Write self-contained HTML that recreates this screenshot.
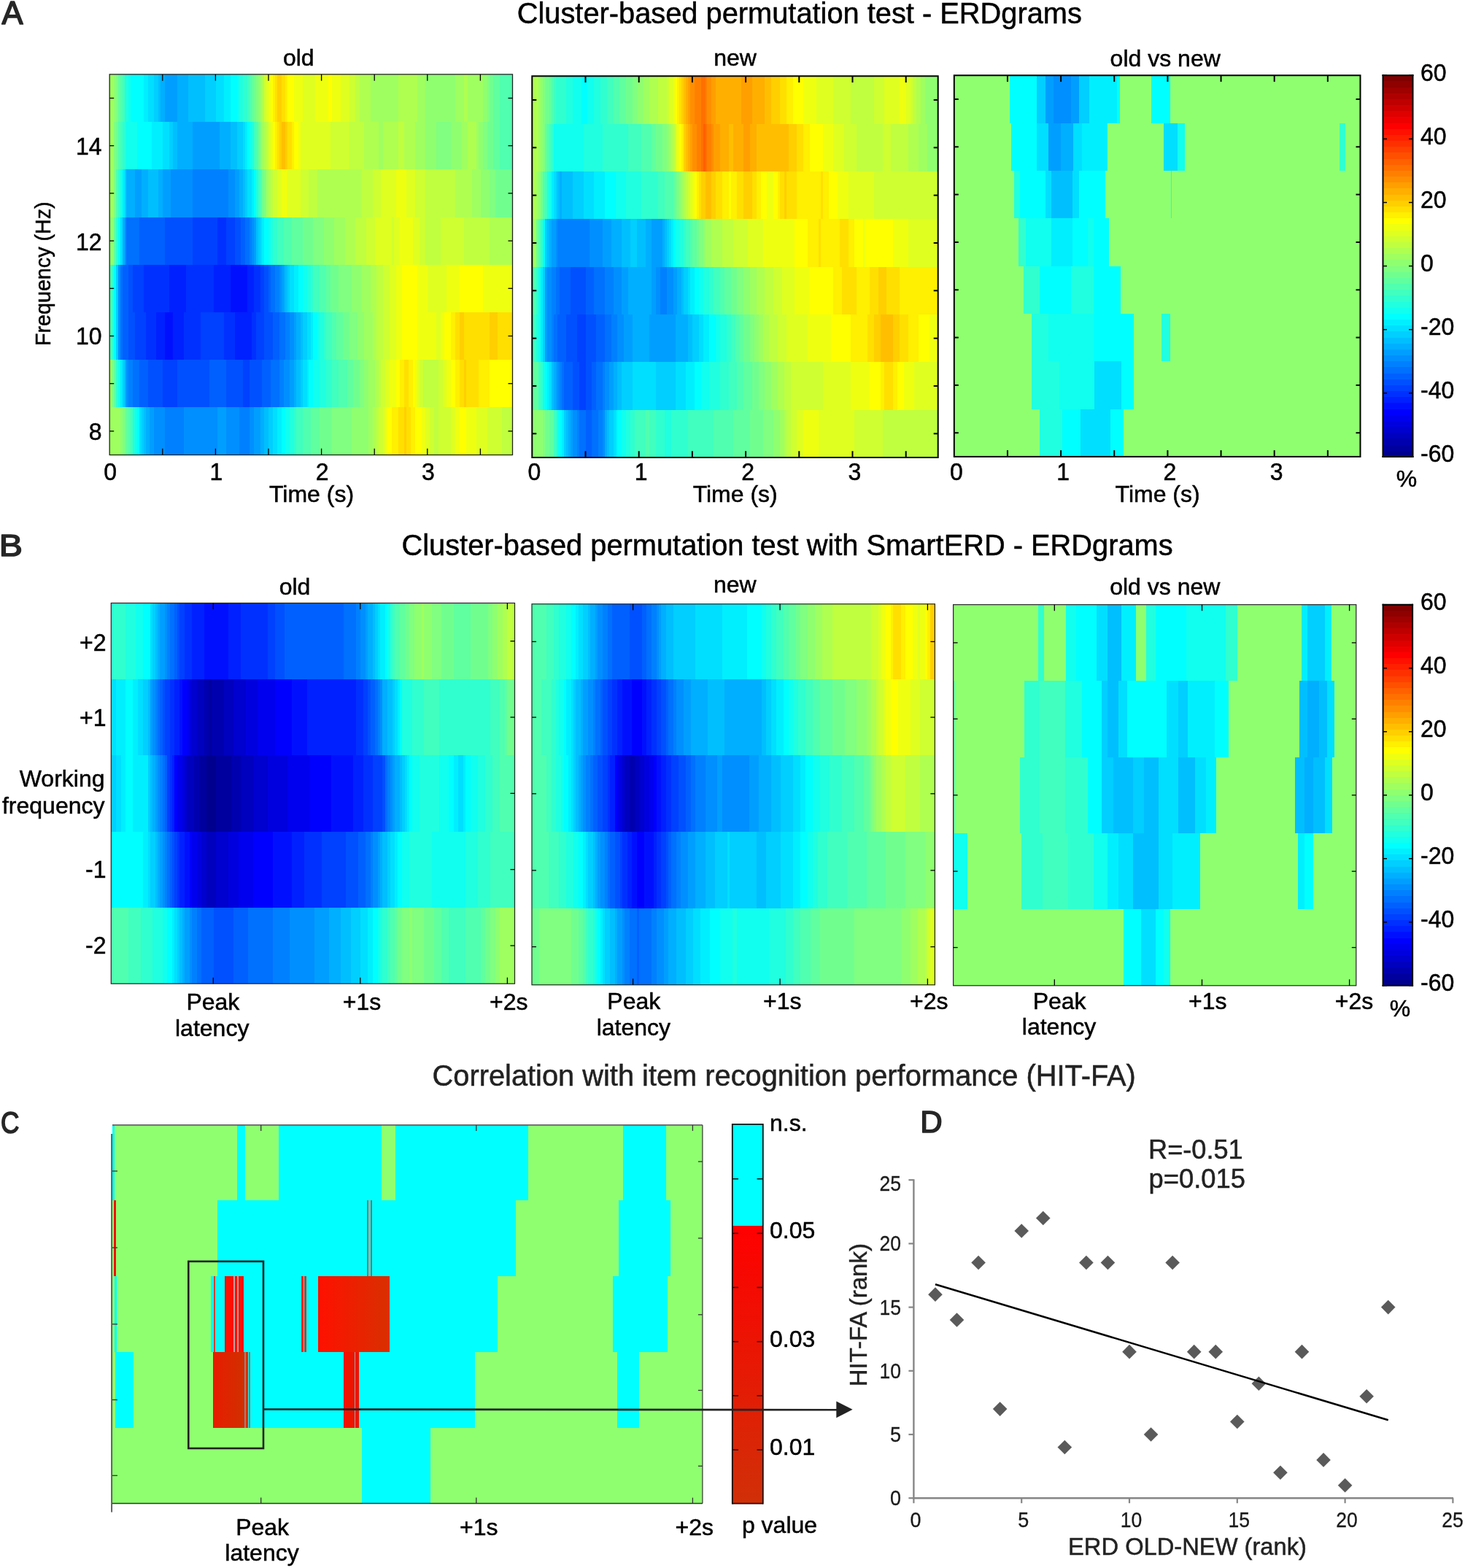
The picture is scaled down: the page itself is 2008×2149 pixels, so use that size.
<!DOCTYPE html>
<html lang="en"><head><meta charset="utf-8"><title>ERDgrams figure</title>
<style>
html,body{margin:0;padding:0;background:#fff;}
body{width:2008px;height:2149px;overflow:hidden;}
svg{display:block;font-family:'Liberation Sans', sans-serif;}
</style></head><body>
<svg width="2008" height="2149" viewBox="0 0 2008 2149">
<rect width="2008" height="2149" fill="#fff"/>
<text transform="translate(2.61 32.8) scale(1.0010 1)" font-size="43.46" fill="#262626" stroke="#262626" stroke-width="1.6" stroke-linejoin="round">A</text>
<text x="1095.8" y="31.6" font-size="39.8" text-anchor="middle" fill="#000" stroke="#000" stroke-width="0.5">Cluster-based permutation test - ERDgrams</text>
<text x="409.3" y="90.4" font-size="32" text-anchor="middle" fill="#000" stroke="#000" stroke-width="0.5">old</text>
<text x="1007.6" y="90.4" font-size="32" text-anchor="middle" fill="#000" stroke="#000" stroke-width="0.5">new</text>
<text x="1597.2" y="91" font-size="32" text-anchor="middle" fill="#000" stroke="#000" stroke-width="0.5">old vs new</text>
<g shape-rendering="crispEdges">
<rect x="150" y="101.9" width="6" height="65.2" fill="#9FFF60"/>
<rect x="156" y="101.9" width="3" height="65.2" fill="#8FFF70"/>
<rect x="159" y="101.9" width="3" height="65.2" fill="#80FF80"/>
<rect x="162" y="101.9" width="3" height="65.2" fill="#60FF9F"/>
<rect x="165" y="101.9" width="3" height="65.2" fill="#50FFAF"/>
<rect x="168" y="101.9" width="3" height="65.2" fill="#40FFBF"/>
<rect x="171" y="101.9" width="5" height="65.2" fill="#20FFDF"/>
<rect x="176" y="101.9" width="3" height="65.2" fill="#10FFEF"/>
<rect x="179" y="101.9" width="18" height="65.2" fill="#00FFFF"/>
<rect x="197" y="101.9" width="6" height="65.2" fill="#00EFFF"/>
<rect x="203" y="101.9" width="8" height="65.2" fill="#00DFFF"/>
<rect x="211" y="101.9" width="6" height="65.2" fill="#00CFFF"/>
<rect x="217" y="101.9" width="3" height="65.2" fill="#00BFFF"/>
<rect x="220" y="101.9" width="6" height="65.2" fill="#00AFFF"/>
<rect x="226" y="101.9" width="17" height="65.2" fill="#009FFF"/>
<rect x="243" y="101.9" width="15" height="65.2" fill="#00AFFF"/>
<rect x="258" y="101.9" width="23" height="65.2" fill="#00BFFF"/>
<rect x="281" y="101.9" width="15" height="65.2" fill="#00CFFF"/>
<rect x="296" y="101.9" width="11" height="65.2" fill="#00DFFF"/>
<rect x="307" y="101.9" width="9" height="65.2" fill="#00EFFF"/>
<rect x="316" y="101.9" width="9" height="65.2" fill="#00FFFF"/>
<rect x="325" y="101.9" width="3" height="65.2" fill="#10FFEF"/>
<rect x="328" y="101.9" width="5" height="65.2" fill="#20FFDF"/>
<rect x="333" y="101.9" width="6" height="65.2" fill="#30FFCF"/>
<rect x="339" y="101.9" width="3" height="65.2" fill="#40FFBF"/>
<rect x="342" y="101.9" width="3" height="65.2" fill="#50FFAF"/>
<rect x="345" y="101.9" width="3" height="65.2" fill="#60FF9F"/>
<rect x="348" y="101.9" width="3" height="65.2" fill="#70FF8F"/>
<rect x="351" y="101.9" width="3" height="65.2" fill="#80FF80"/>
<rect x="354" y="101.9" width="3" height="65.2" fill="#8FFF70"/>
<rect x="357" y="101.9" width="2" height="65.2" fill="#9FFF60"/>
<rect x="359" y="101.9" width="3" height="65.2" fill="#AFFF50"/>
<rect x="362" y="101.9" width="3" height="65.2" fill="#CFFF30"/>
<rect x="365" y="101.9" width="3" height="65.2" fill="#DFFF20"/>
<rect x="368" y="101.9" width="3" height="65.2" fill="#EFFF10"/>
<rect x="371" y="101.9" width="3" height="65.2" fill="#FFFF00"/>
<rect x="374" y="101.9" width="3" height="65.2" fill="#FFEF00"/>
<rect x="377" y="101.9" width="3" height="65.2" fill="#FFDF00"/>
<rect x="380" y="101.9" width="6" height="65.2" fill="#FFCF00"/>
<rect x="386" y="101.9" width="5" height="65.2" fill="#FFDF00"/>
<rect x="391" y="101.9" width="3" height="65.2" fill="#FFEF00"/>
<rect x="394" y="101.9" width="9" height="65.2" fill="#FFFF00"/>
<rect x="403" y="101.9" width="12" height="65.2" fill="#EFFF10"/>
<rect x="415" y="101.9" width="17" height="65.2" fill="#DFFF20"/>
<rect x="432" y="101.9" width="18" height="65.2" fill="#EFFF10"/>
<rect x="450" y="101.9" width="5" height="65.2" fill="#FFFF00"/>
<rect x="455" y="101.9" width="12" height="65.2" fill="#EFFF10"/>
<rect x="467" y="101.9" width="12" height="65.2" fill="#DFFF20"/>
<rect x="479" y="101.9" width="8" height="65.2" fill="#CFFF30"/>
<rect x="487" y="101.9" width="6" height="65.2" fill="#BFFF40"/>
<rect x="493" y="101.9" width="15" height="65.2" fill="#AFFF50"/>
<rect x="508" y="101.9" width="38" height="65.2" fill="#9FFF60"/>
<rect x="546" y="101.9" width="26" height="65.2" fill="#AFFF50"/>
<rect x="572" y="101.9" width="11" height="65.2" fill="#9FFF60"/>
<rect x="583" y="101.9" width="41" height="65.2" fill="#8FFF70"/>
<rect x="624" y="101.9" width="12" height="65.2" fill="#9FFF60"/>
<rect x="636" y="101.9" width="5" height="65.2" fill="#AFFF50"/>
<rect x="641" y="101.9" width="21" height="65.2" fill="#9FFF60"/>
<rect x="662" y="101.9" width="6" height="65.2" fill="#8FFF70"/>
<rect x="668" y="101.9" width="3" height="65.2" fill="#80FF80"/>
<rect x="671" y="101.9" width="5" height="65.2" fill="#70FF8F"/>
<rect x="676" y="101.9" width="9" height="65.2" fill="#60FF9F"/>
<rect x="685" y="101.9" width="17" height="65.2" fill="#50FFAF"/>
<rect x="150" y="167.1" width="6" height="65.2" fill="#9FFF60"/>
<rect x="156" y="167.1" width="3" height="65.2" fill="#80FF80"/>
<rect x="159" y="167.1" width="3" height="65.2" fill="#70FF8F"/>
<rect x="162" y="167.1" width="3" height="65.2" fill="#50FFAF"/>
<rect x="165" y="167.1" width="3" height="65.2" fill="#40FFBF"/>
<rect x="168" y="167.1" width="3" height="65.2" fill="#30FFCF"/>
<rect x="171" y="167.1" width="2" height="65.2" fill="#20FFDF"/>
<rect x="173" y="167.1" width="15" height="65.2" fill="#10FFEF"/>
<rect x="188" y="167.1" width="20" height="65.2" fill="#00FFFF"/>
<rect x="208" y="167.1" width="15" height="65.2" fill="#00EFFF"/>
<rect x="223" y="167.1" width="9" height="65.2" fill="#00DFFF"/>
<rect x="232" y="167.1" width="5" height="65.2" fill="#00CFFF"/>
<rect x="237" y="167.1" width="6" height="65.2" fill="#00BFFF"/>
<rect x="243" y="167.1" width="21" height="65.2" fill="#00AFFF"/>
<rect x="264" y="167.1" width="37" height="65.2" fill="#009FFF"/>
<rect x="301" y="167.1" width="15" height="65.2" fill="#00AFFF"/>
<rect x="316" y="167.1" width="9" height="65.2" fill="#00BFFF"/>
<rect x="325" y="167.1" width="8" height="65.2" fill="#00CFFF"/>
<rect x="333" y="167.1" width="3" height="65.2" fill="#00DFFF"/>
<rect x="336" y="167.1" width="3" height="65.2" fill="#00EFFF"/>
<rect x="339" y="167.1" width="3" height="65.2" fill="#00FFFF"/>
<rect x="342" y="167.1" width="3" height="65.2" fill="#10FFEF"/>
<rect x="345" y="167.1" width="3" height="65.2" fill="#20FFDF"/>
<rect x="348" y="167.1" width="3" height="65.2" fill="#40FFBF"/>
<rect x="351" y="167.1" width="3" height="65.2" fill="#50FFAF"/>
<rect x="354" y="167.1" width="3" height="65.2" fill="#70FF8F"/>
<rect x="357" y="167.1" width="2" height="65.2" fill="#8FFF70"/>
<rect x="359" y="167.1" width="3" height="65.2" fill="#9FFF60"/>
<rect x="362" y="167.1" width="3" height="65.2" fill="#AFFF50"/>
<rect x="365" y="167.1" width="3" height="65.2" fill="#BFFF40"/>
<rect x="368" y="167.1" width="3" height="65.2" fill="#DFFF20"/>
<rect x="371" y="167.1" width="3" height="65.2" fill="#EFFF10"/>
<rect x="374" y="167.1" width="3" height="65.2" fill="#FFFF00"/>
<rect x="377" y="167.1" width="3" height="65.2" fill="#FFEF00"/>
<rect x="380" y="167.1" width="3" height="65.2" fill="#FFDF00"/>
<rect x="383" y="167.1" width="3" height="65.2" fill="#FFCF00"/>
<rect x="386" y="167.1" width="5" height="65.2" fill="#FFBF00"/>
<rect x="391" y="167.1" width="3" height="65.2" fill="#FFCF00"/>
<rect x="394" y="167.1" width="6" height="65.2" fill="#FFDF00"/>
<rect x="400" y="167.1" width="3" height="65.2" fill="#FFEF00"/>
<rect x="403" y="167.1" width="6" height="65.2" fill="#FFFF00"/>
<rect x="409" y="167.1" width="3" height="65.2" fill="#EFFF10"/>
<rect x="412" y="167.1" width="41" height="65.2" fill="#DFFF20"/>
<rect x="453" y="167.1" width="26" height="65.2" fill="#CFFF30"/>
<rect x="479" y="167.1" width="20" height="65.2" fill="#BFFF40"/>
<rect x="499" y="167.1" width="20" height="65.2" fill="#AFFF50"/>
<rect x="519" y="167.1" width="6" height="65.2" fill="#9FFF60"/>
<rect x="525" y="167.1" width="21" height="65.2" fill="#AFFF50"/>
<rect x="546" y="167.1" width="8" height="65.2" fill="#BFFF40"/>
<rect x="554" y="167.1" width="15" height="65.2" fill="#AFFF50"/>
<rect x="569" y="167.1" width="14" height="65.2" fill="#9FFF60"/>
<rect x="583" y="167.1" width="15" height="65.2" fill="#8FFF70"/>
<rect x="598" y="167.1" width="20" height="65.2" fill="#80FF80"/>
<rect x="618" y="167.1" width="15" height="65.2" fill="#8FFF70"/>
<rect x="633" y="167.1" width="8" height="65.2" fill="#9FFF60"/>
<rect x="641" y="167.1" width="12" height="65.2" fill="#AFFF50"/>
<rect x="653" y="167.1" width="3" height="65.2" fill="#9FFF60"/>
<rect x="656" y="167.1" width="6" height="65.2" fill="#8FFF70"/>
<rect x="662" y="167.1" width="6" height="65.2" fill="#80FF80"/>
<rect x="668" y="167.1" width="8" height="65.2" fill="#70FF8F"/>
<rect x="676" y="167.1" width="9" height="65.2" fill="#60FF9F"/>
<rect x="685" y="167.1" width="17" height="65.2" fill="#50FFAF"/>
<rect x="150" y="232.3" width="6" height="65.2" fill="#9FFF60"/>
<rect x="156" y="232.3" width="3" height="65.2" fill="#80FF80"/>
<rect x="159" y="232.3" width="3" height="65.2" fill="#50FFAF"/>
<rect x="162" y="232.3" width="3" height="65.2" fill="#30FFCF"/>
<rect x="165" y="232.3" width="3" height="65.2" fill="#10FFEF"/>
<rect x="168" y="232.3" width="3" height="65.2" fill="#00EFFF"/>
<rect x="171" y="232.3" width="2" height="65.2" fill="#00CFFF"/>
<rect x="173" y="232.3" width="12" height="65.2" fill="#00AFFF"/>
<rect x="185" y="232.3" width="9" height="65.2" fill="#009FFF"/>
<rect x="194" y="232.3" width="9" height="65.2" fill="#00AFFF"/>
<rect x="203" y="232.3" width="14" height="65.2" fill="#00BFFF"/>
<rect x="217" y="232.3" width="6" height="65.2" fill="#00AFFF"/>
<rect x="223" y="232.3" width="11" height="65.2" fill="#009FFF"/>
<rect x="234" y="232.3" width="30" height="65.2" fill="#008FFF"/>
<rect x="264" y="232.3" width="49" height="65.2" fill="#0080FF"/>
<rect x="313" y="232.3" width="9" height="65.2" fill="#008FFF"/>
<rect x="322" y="232.3" width="6" height="65.2" fill="#009FFF"/>
<rect x="328" y="232.3" width="5" height="65.2" fill="#00AFFF"/>
<rect x="333" y="232.3" width="3" height="65.2" fill="#00BFFF"/>
<rect x="336" y="232.3" width="3" height="65.2" fill="#00CFFF"/>
<rect x="339" y="232.3" width="6" height="65.2" fill="#00DFFF"/>
<rect x="345" y="232.3" width="3" height="65.2" fill="#00EFFF"/>
<rect x="348" y="232.3" width="3" height="65.2" fill="#00FFFF"/>
<rect x="351" y="232.3" width="3" height="65.2" fill="#20FFDF"/>
<rect x="354" y="232.3" width="3" height="65.2" fill="#40FFBF"/>
<rect x="357" y="232.3" width="2" height="65.2" fill="#50FFAF"/>
<rect x="359" y="232.3" width="3" height="65.2" fill="#70FF8F"/>
<rect x="362" y="232.3" width="3" height="65.2" fill="#80FF80"/>
<rect x="365" y="232.3" width="3" height="65.2" fill="#9FFF60"/>
<rect x="368" y="232.3" width="3" height="65.2" fill="#AFFF50"/>
<rect x="371" y="232.3" width="3" height="65.2" fill="#BFFF40"/>
<rect x="374" y="232.3" width="6" height="65.2" fill="#CFFF30"/>
<rect x="380" y="232.3" width="6" height="65.2" fill="#DFFF20"/>
<rect x="386" y="232.3" width="8" height="65.2" fill="#EFFF10"/>
<rect x="394" y="232.3" width="18" height="65.2" fill="#DFFF20"/>
<rect x="412" y="232.3" width="11" height="65.2" fill="#CFFF30"/>
<rect x="423" y="232.3" width="12" height="65.2" fill="#BFFF40"/>
<rect x="435" y="232.3" width="61" height="65.2" fill="#AFFF50"/>
<rect x="496" y="232.3" width="15" height="65.2" fill="#BFFF40"/>
<rect x="511" y="232.3" width="11" height="65.2" fill="#CFFF30"/>
<rect x="522" y="232.3" width="21" height="65.2" fill="#DFFF20"/>
<rect x="543" y="232.3" width="14" height="65.2" fill="#EFFF10"/>
<rect x="557" y="232.3" width="12" height="65.2" fill="#DFFF20"/>
<rect x="569" y="232.3" width="14" height="65.2" fill="#CFFF30"/>
<rect x="583" y="232.3" width="41" height="65.2" fill="#BFFF40"/>
<rect x="624" y="232.3" width="23" height="65.2" fill="#AFFF50"/>
<rect x="647" y="232.3" width="12" height="65.2" fill="#9FFF60"/>
<rect x="659" y="232.3" width="12" height="65.2" fill="#8FFF70"/>
<rect x="671" y="232.3" width="8" height="65.2" fill="#80FF80"/>
<rect x="679" y="232.3" width="23" height="65.2" fill="#70FF8F"/>
<rect x="150" y="297.5" width="6" height="65.2" fill="#8FFF70"/>
<rect x="156" y="297.5" width="3" height="65.2" fill="#60FF9F"/>
<rect x="159" y="297.5" width="3" height="65.2" fill="#30FFCF"/>
<rect x="162" y="297.5" width="3" height="65.2" fill="#00FFFF"/>
<rect x="165" y="297.5" width="3" height="65.2" fill="#00DFFF"/>
<rect x="168" y="297.5" width="3" height="65.2" fill="#00AFFF"/>
<rect x="171" y="297.5" width="2" height="65.2" fill="#008FFF"/>
<rect x="173" y="297.5" width="18" height="65.2" fill="#0070FF"/>
<rect x="191" y="297.5" width="35" height="65.2" fill="#0060FF"/>
<rect x="226" y="297.5" width="38" height="65.2" fill="#0050FF"/>
<rect x="264" y="297.5" width="34" height="65.2" fill="#0040FF"/>
<rect x="298" y="297.5" width="12" height="65.2" fill="#0030FF"/>
<rect x="310" y="297.5" width="12" height="65.2" fill="#0040FF"/>
<rect x="322" y="297.5" width="8" height="65.2" fill="#0050FF"/>
<rect x="330" y="297.5" width="6" height="65.2" fill="#0060FF"/>
<rect x="336" y="297.5" width="6" height="65.2" fill="#0070FF"/>
<rect x="342" y="297.5" width="3" height="65.2" fill="#0080FF"/>
<rect x="345" y="297.5" width="3" height="65.2" fill="#008FFF"/>
<rect x="348" y="297.5" width="3" height="65.2" fill="#009FFF"/>
<rect x="351" y="297.5" width="3" height="65.2" fill="#00BFFF"/>
<rect x="354" y="297.5" width="3" height="65.2" fill="#00CFFF"/>
<rect x="357" y="297.5" width="2" height="65.2" fill="#00DFFF"/>
<rect x="359" y="297.5" width="3" height="65.2" fill="#00EFFF"/>
<rect x="362" y="297.5" width="6" height="65.2" fill="#00FFFF"/>
<rect x="368" y="297.5" width="3" height="65.2" fill="#10FFEF"/>
<rect x="371" y="297.5" width="3" height="65.2" fill="#20FFDF"/>
<rect x="374" y="297.5" width="6" height="65.2" fill="#30FFCF"/>
<rect x="380" y="297.5" width="9" height="65.2" fill="#40FFBF"/>
<rect x="389" y="297.5" width="11" height="65.2" fill="#50FFAF"/>
<rect x="400" y="297.5" width="15" height="65.2" fill="#60FF9F"/>
<rect x="415" y="297.5" width="14" height="65.2" fill="#70FF8F"/>
<rect x="429" y="297.5" width="15" height="65.2" fill="#80FF80"/>
<rect x="444" y="297.5" width="14" height="65.2" fill="#8FFF70"/>
<rect x="458" y="297.5" width="15" height="65.2" fill="#9FFF60"/>
<rect x="473" y="297.5" width="14" height="65.2" fill="#AFFF50"/>
<rect x="487" y="297.5" width="15" height="65.2" fill="#BFFF40"/>
<rect x="502" y="297.5" width="12" height="65.2" fill="#CFFF30"/>
<rect x="514" y="297.5" width="23" height="65.2" fill="#DFFF20"/>
<rect x="537" y="297.5" width="3" height="65.2" fill="#CFFF30"/>
<rect x="540" y="297.5" width="8" height="65.2" fill="#DFFF20"/>
<rect x="548" y="297.5" width="18" height="65.2" fill="#EFFF10"/>
<rect x="566" y="297.5" width="9" height="65.2" fill="#DFFF20"/>
<rect x="575" y="297.5" width="8" height="65.2" fill="#CFFF30"/>
<rect x="583" y="297.5" width="21" height="65.2" fill="#BFFF40"/>
<rect x="604" y="297.5" width="32" height="65.2" fill="#CFFF30"/>
<rect x="636" y="297.5" width="35" height="65.2" fill="#BFFF40"/>
<rect x="671" y="297.5" width="31" height="65.2" fill="#AFFF50"/>
<rect x="150" y="362.7" width="3" height="65.2" fill="#50FFAF"/>
<rect x="153" y="362.7" width="3" height="65.2" fill="#30FFCF"/>
<rect x="156" y="362.7" width="3" height="65.2" fill="#00FFFF"/>
<rect x="159" y="362.7" width="3" height="65.2" fill="#00CFFF"/>
<rect x="162" y="362.7" width="3" height="65.2" fill="#008FFF"/>
<rect x="165" y="362.7" width="3" height="65.2" fill="#0070FF"/>
<rect x="168" y="362.7" width="8" height="65.2" fill="#0060FF"/>
<rect x="176" y="362.7" width="6" height="65.2" fill="#0050FF"/>
<rect x="182" y="362.7" width="15" height="65.2" fill="#0040FF"/>
<rect x="197" y="362.7" width="35" height="65.2" fill="#0030FF"/>
<rect x="232" y="362.7" width="23" height="65.2" fill="#0020FF"/>
<rect x="255" y="362.7" width="38" height="65.2" fill="#0030FF"/>
<rect x="293" y="362.7" width="23" height="65.2" fill="#0020FF"/>
<rect x="316" y="362.7" width="23" height="65.2" fill="#0010FF"/>
<rect x="339" y="362.7" width="9" height="65.2" fill="#0020FF"/>
<rect x="348" y="362.7" width="9" height="65.2" fill="#0030FF"/>
<rect x="357" y="362.7" width="5" height="65.2" fill="#0040FF"/>
<rect x="362" y="362.7" width="6" height="65.2" fill="#0050FF"/>
<rect x="368" y="362.7" width="3" height="65.2" fill="#0060FF"/>
<rect x="371" y="362.7" width="6" height="65.2" fill="#0070FF"/>
<rect x="377" y="362.7" width="6" height="65.2" fill="#0080FF"/>
<rect x="383" y="362.7" width="3" height="65.2" fill="#008FFF"/>
<rect x="386" y="362.7" width="3" height="65.2" fill="#009FFF"/>
<rect x="389" y="362.7" width="2" height="65.2" fill="#00AFFF"/>
<rect x="391" y="362.7" width="3" height="65.2" fill="#00BFFF"/>
<rect x="394" y="362.7" width="3" height="65.2" fill="#00CFFF"/>
<rect x="397" y="362.7" width="6" height="65.2" fill="#00DFFF"/>
<rect x="403" y="362.7" width="6" height="65.2" fill="#00EFFF"/>
<rect x="409" y="362.7" width="6" height="65.2" fill="#00FFFF"/>
<rect x="415" y="362.7" width="6" height="65.2" fill="#10FFEF"/>
<rect x="421" y="362.7" width="5" height="65.2" fill="#20FFDF"/>
<rect x="426" y="362.7" width="3" height="65.2" fill="#30FFCF"/>
<rect x="429" y="362.7" width="9" height="65.2" fill="#40FFBF"/>
<rect x="438" y="362.7" width="9" height="65.2" fill="#50FFAF"/>
<rect x="447" y="362.7" width="6" height="65.2" fill="#60FF9F"/>
<rect x="453" y="362.7" width="11" height="65.2" fill="#70FF8F"/>
<rect x="464" y="362.7" width="18" height="65.2" fill="#80FF80"/>
<rect x="482" y="362.7" width="14" height="65.2" fill="#8FFF70"/>
<rect x="496" y="362.7" width="12" height="65.2" fill="#9FFF60"/>
<rect x="508" y="362.7" width="8" height="65.2" fill="#AFFF50"/>
<rect x="516" y="362.7" width="9" height="65.2" fill="#BFFF40"/>
<rect x="525" y="362.7" width="9" height="65.2" fill="#CFFF30"/>
<rect x="534" y="362.7" width="9" height="65.2" fill="#DFFF20"/>
<rect x="543" y="362.7" width="8" height="65.2" fill="#EFFF10"/>
<rect x="551" y="362.7" width="21" height="65.2" fill="#FFFF00"/>
<rect x="572" y="362.7" width="14" height="65.2" fill="#EFFF10"/>
<rect x="586" y="362.7" width="26" height="65.2" fill="#DFFF20"/>
<rect x="612" y="362.7" width="18" height="65.2" fill="#EFFF10"/>
<rect x="630" y="362.7" width="32" height="65.2" fill="#FFFF00"/>
<rect x="662" y="362.7" width="40" height="65.2" fill="#EFFF10"/>
<rect x="150" y="427.9" width="3" height="65.2" fill="#50FFAF"/>
<rect x="153" y="427.9" width="3" height="65.2" fill="#30FFCF"/>
<rect x="156" y="427.9" width="3" height="65.2" fill="#00FFFF"/>
<rect x="159" y="427.9" width="3" height="65.2" fill="#00CFFF"/>
<rect x="162" y="427.9" width="3" height="65.2" fill="#008FFF"/>
<rect x="165" y="427.9" width="3" height="65.2" fill="#0070FF"/>
<rect x="168" y="427.9" width="8" height="65.2" fill="#0060FF"/>
<rect x="176" y="427.9" width="9" height="65.2" fill="#0050FF"/>
<rect x="185" y="427.9" width="15" height="65.2" fill="#0040FF"/>
<rect x="200" y="427.9" width="14" height="65.2" fill="#0030FF"/>
<rect x="214" y="427.9" width="12" height="65.2" fill="#0020FF"/>
<rect x="226" y="427.9" width="11" height="65.2" fill="#0010FF"/>
<rect x="237" y="427.9" width="15" height="65.2" fill="#0020FF"/>
<rect x="252" y="427.9" width="23" height="65.2" fill="#0030FF"/>
<rect x="275" y="427.9" width="32" height="65.2" fill="#0040FF"/>
<rect x="307" y="427.9" width="15" height="65.2" fill="#0030FF"/>
<rect x="322" y="427.9" width="23" height="65.2" fill="#0020FF"/>
<rect x="345" y="427.9" width="6" height="65.2" fill="#0030FF"/>
<rect x="351" y="427.9" width="11" height="65.2" fill="#0040FF"/>
<rect x="362" y="427.9" width="12" height="65.2" fill="#0050FF"/>
<rect x="374" y="427.9" width="9" height="65.2" fill="#0060FF"/>
<rect x="383" y="427.9" width="8" height="65.2" fill="#0070FF"/>
<rect x="391" y="427.9" width="6" height="65.2" fill="#0080FF"/>
<rect x="397" y="427.9" width="6" height="65.2" fill="#008FFF"/>
<rect x="403" y="427.9" width="3" height="65.2" fill="#009FFF"/>
<rect x="406" y="427.9" width="6" height="65.2" fill="#00AFFF"/>
<rect x="412" y="427.9" width="3" height="65.2" fill="#00BFFF"/>
<rect x="415" y="427.9" width="6" height="65.2" fill="#00CFFF"/>
<rect x="421" y="427.9" width="5" height="65.2" fill="#00DFFF"/>
<rect x="426" y="427.9" width="3" height="65.2" fill="#00EFFF"/>
<rect x="429" y="427.9" width="6" height="65.2" fill="#00FFFF"/>
<rect x="435" y="427.9" width="3" height="65.2" fill="#10FFEF"/>
<rect x="438" y="427.9" width="6" height="65.2" fill="#20FFDF"/>
<rect x="444" y="427.9" width="3" height="65.2" fill="#30FFCF"/>
<rect x="447" y="427.9" width="8" height="65.2" fill="#40FFBF"/>
<rect x="455" y="427.9" width="6" height="65.2" fill="#50FFAF"/>
<rect x="461" y="427.9" width="9" height="65.2" fill="#60FF9F"/>
<rect x="470" y="427.9" width="9" height="65.2" fill="#70FF8F"/>
<rect x="479" y="427.9" width="11" height="65.2" fill="#80FF80"/>
<rect x="490" y="427.9" width="9" height="65.2" fill="#8FFF70"/>
<rect x="499" y="427.9" width="12" height="65.2" fill="#9FFF60"/>
<rect x="511" y="427.9" width="5" height="65.2" fill="#AFFF50"/>
<rect x="516" y="427.9" width="9" height="65.2" fill="#BFFF40"/>
<rect x="525" y="427.9" width="9" height="65.2" fill="#CFFF30"/>
<rect x="534" y="427.9" width="9" height="65.2" fill="#DFFF20"/>
<rect x="543" y="427.9" width="8" height="65.2" fill="#EFFF10"/>
<rect x="551" y="427.9" width="21" height="65.2" fill="#FFFF00"/>
<rect x="572" y="427.9" width="26" height="65.2" fill="#EFFF10"/>
<rect x="598" y="427.9" width="6" height="65.2" fill="#DFFF20"/>
<rect x="604" y="427.9" width="5" height="65.2" fill="#EFFF10"/>
<rect x="609" y="427.9" width="9" height="65.2" fill="#FFFF00"/>
<rect x="618" y="427.9" width="6" height="65.2" fill="#FFEF00"/>
<rect x="624" y="427.9" width="6" height="65.2" fill="#FFDF00"/>
<rect x="630" y="427.9" width="6" height="65.2" fill="#FFCF00"/>
<rect x="636" y="427.9" width="35" height="65.2" fill="#FFDF00"/>
<rect x="671" y="427.9" width="11" height="65.2" fill="#FFCF00"/>
<rect x="682" y="427.9" width="20" height="65.2" fill="#FFDF00"/>
<rect x="150" y="493.1" width="3" height="65.2" fill="#9FFF60"/>
<rect x="153" y="493.1" width="3" height="65.2" fill="#80FF80"/>
<rect x="156" y="493.1" width="3" height="65.2" fill="#60FF9F"/>
<rect x="159" y="493.1" width="3" height="65.2" fill="#30FFCF"/>
<rect x="162" y="493.1" width="3" height="65.2" fill="#10FFEF"/>
<rect x="165" y="493.1" width="3" height="65.2" fill="#00EFFF"/>
<rect x="168" y="493.1" width="3" height="65.2" fill="#00CFFF"/>
<rect x="171" y="493.1" width="2" height="65.2" fill="#00AFFF"/>
<rect x="173" y="493.1" width="3" height="65.2" fill="#008FFF"/>
<rect x="176" y="493.1" width="6" height="65.2" fill="#0080FF"/>
<rect x="182" y="493.1" width="9" height="65.2" fill="#0070FF"/>
<rect x="191" y="493.1" width="12" height="65.2" fill="#0060FF"/>
<rect x="203" y="493.1" width="20" height="65.2" fill="#0050FF"/>
<rect x="223" y="493.1" width="20" height="65.2" fill="#0040FF"/>
<rect x="243" y="493.1" width="44" height="65.2" fill="#0050FF"/>
<rect x="287" y="493.1" width="23" height="65.2" fill="#0060FF"/>
<rect x="310" y="493.1" width="23" height="65.2" fill="#0050FF"/>
<rect x="333" y="493.1" width="9" height="65.2" fill="#0040FF"/>
<rect x="342" y="493.1" width="17" height="65.2" fill="#0050FF"/>
<rect x="359" y="493.1" width="12" height="65.2" fill="#0060FF"/>
<rect x="371" y="493.1" width="12" height="65.2" fill="#0070FF"/>
<rect x="383" y="493.1" width="6" height="65.2" fill="#0080FF"/>
<rect x="389" y="493.1" width="8" height="65.2" fill="#008FFF"/>
<rect x="397" y="493.1" width="6" height="65.2" fill="#009FFF"/>
<rect x="403" y="493.1" width="3" height="65.2" fill="#00AFFF"/>
<rect x="406" y="493.1" width="6" height="65.2" fill="#00BFFF"/>
<rect x="412" y="493.1" width="3" height="65.2" fill="#00CFFF"/>
<rect x="415" y="493.1" width="6" height="65.2" fill="#00DFFF"/>
<rect x="421" y="493.1" width="2" height="65.2" fill="#00EFFF"/>
<rect x="423" y="493.1" width="6" height="65.2" fill="#00FFFF"/>
<rect x="429" y="493.1" width="9" height="65.2" fill="#10FFEF"/>
<rect x="438" y="493.1" width="9" height="65.2" fill="#20FFDF"/>
<rect x="447" y="493.1" width="8" height="65.2" fill="#30FFCF"/>
<rect x="455" y="493.1" width="9" height="65.2" fill="#40FFBF"/>
<rect x="464" y="493.1" width="12" height="65.2" fill="#50FFAF"/>
<rect x="476" y="493.1" width="8" height="65.2" fill="#60FF9F"/>
<rect x="484" y="493.1" width="9" height="65.2" fill="#70FF8F"/>
<rect x="493" y="493.1" width="6" height="65.2" fill="#80FF80"/>
<rect x="499" y="493.1" width="6" height="65.2" fill="#8FFF70"/>
<rect x="505" y="493.1" width="9" height="65.2" fill="#9FFF60"/>
<rect x="514" y="493.1" width="5" height="65.2" fill="#AFFF50"/>
<rect x="519" y="493.1" width="3" height="65.2" fill="#BFFF40"/>
<rect x="522" y="493.1" width="6" height="65.2" fill="#CFFF30"/>
<rect x="528" y="493.1" width="6" height="65.2" fill="#DFFF20"/>
<rect x="534" y="493.1" width="9" height="65.2" fill="#EFFF10"/>
<rect x="543" y="493.1" width="5" height="65.2" fill="#FFFF00"/>
<rect x="548" y="493.1" width="6" height="65.2" fill="#FFEF00"/>
<rect x="554" y="493.1" width="6" height="65.2" fill="#FFDF00"/>
<rect x="560" y="493.1" width="6" height="65.2" fill="#FFEF00"/>
<rect x="566" y="493.1" width="3" height="65.2" fill="#FFFF00"/>
<rect x="569" y="493.1" width="3" height="65.2" fill="#EFFF10"/>
<rect x="572" y="493.1" width="3" height="65.2" fill="#DFFF20"/>
<rect x="575" y="493.1" width="5" height="65.2" fill="#CFFF30"/>
<rect x="580" y="493.1" width="21" height="65.2" fill="#BFFF40"/>
<rect x="601" y="493.1" width="6" height="65.2" fill="#CFFF30"/>
<rect x="607" y="493.1" width="5" height="65.2" fill="#DFFF20"/>
<rect x="612" y="493.1" width="6" height="65.2" fill="#EFFF10"/>
<rect x="618" y="493.1" width="6" height="65.2" fill="#FFFF00"/>
<rect x="624" y="493.1" width="6" height="65.2" fill="#FFEF00"/>
<rect x="630" y="493.1" width="6" height="65.2" fill="#FFDF00"/>
<rect x="636" y="493.1" width="3" height="65.2" fill="#FFCF00"/>
<rect x="639" y="493.1" width="17" height="65.2" fill="#FFDF00"/>
<rect x="656" y="493.1" width="15" height="65.2" fill="#FFEF00"/>
<rect x="671" y="493.1" width="31" height="65.2" fill="#FFFF00"/>
<rect x="150" y="558.3" width="15" height="65.2" fill="#9FFF60"/>
<rect x="165" y="558.3" width="3" height="65.2" fill="#8FFF70"/>
<rect x="168" y="558.3" width="3" height="65.2" fill="#80FF80"/>
<rect x="171" y="558.3" width="2" height="65.2" fill="#70FF8F"/>
<rect x="173" y="558.3" width="3" height="65.2" fill="#60FF9F"/>
<rect x="176" y="558.3" width="3" height="65.2" fill="#50FFAF"/>
<rect x="179" y="558.3" width="3" height="65.2" fill="#40FFBF"/>
<rect x="182" y="558.3" width="3" height="65.2" fill="#20FFDF"/>
<rect x="185" y="558.3" width="3" height="65.2" fill="#10FFEF"/>
<rect x="188" y="558.3" width="3" height="65.2" fill="#00FFFF"/>
<rect x="191" y="558.3" width="3" height="65.2" fill="#00DFFF"/>
<rect x="194" y="558.3" width="3" height="65.2" fill="#00CFFF"/>
<rect x="197" y="558.3" width="3" height="65.2" fill="#00BFFF"/>
<rect x="200" y="558.3" width="5" height="65.2" fill="#00AFFF"/>
<rect x="205" y="558.3" width="6" height="65.2" fill="#009FFF"/>
<rect x="211" y="558.3" width="15" height="65.2" fill="#008FFF"/>
<rect x="226" y="558.3" width="26" height="65.2" fill="#0080FF"/>
<rect x="252" y="558.3" width="46" height="65.2" fill="#008FFF"/>
<rect x="298" y="558.3" width="12" height="65.2" fill="#009FFF"/>
<rect x="310" y="558.3" width="18" height="65.2" fill="#008FFF"/>
<rect x="328" y="558.3" width="14" height="65.2" fill="#0080FF"/>
<rect x="342" y="558.3" width="6" height="65.2" fill="#008FFF"/>
<rect x="348" y="558.3" width="9" height="65.2" fill="#009FFF"/>
<rect x="357" y="558.3" width="5" height="65.2" fill="#00AFFF"/>
<rect x="362" y="558.3" width="6" height="65.2" fill="#00BFFF"/>
<rect x="368" y="558.3" width="6" height="65.2" fill="#00CFFF"/>
<rect x="374" y="558.3" width="6" height="65.2" fill="#00DFFF"/>
<rect x="380" y="558.3" width="6" height="65.2" fill="#00EFFF"/>
<rect x="386" y="558.3" width="5" height="65.2" fill="#00FFFF"/>
<rect x="391" y="558.3" width="6" height="65.2" fill="#10FFEF"/>
<rect x="397" y="558.3" width="6" height="65.2" fill="#20FFDF"/>
<rect x="403" y="558.3" width="3" height="65.2" fill="#30FFCF"/>
<rect x="406" y="558.3" width="9" height="65.2" fill="#40FFBF"/>
<rect x="415" y="558.3" width="11" height="65.2" fill="#50FFAF"/>
<rect x="426" y="558.3" width="12" height="65.2" fill="#60FF9F"/>
<rect x="438" y="558.3" width="17" height="65.2" fill="#70FF8F"/>
<rect x="455" y="558.3" width="27" height="65.2" fill="#80FF80"/>
<rect x="482" y="558.3" width="23" height="65.2" fill="#8FFF70"/>
<rect x="505" y="558.3" width="6" height="65.2" fill="#9FFF60"/>
<rect x="511" y="558.3" width="5" height="65.2" fill="#AFFF50"/>
<rect x="516" y="558.3" width="3" height="65.2" fill="#BFFF40"/>
<rect x="519" y="558.3" width="6" height="65.2" fill="#CFFF30"/>
<rect x="525" y="558.3" width="3" height="65.2" fill="#DFFF20"/>
<rect x="528" y="558.3" width="3" height="65.2" fill="#EFFF10"/>
<rect x="531" y="558.3" width="6" height="65.2" fill="#FFFF00"/>
<rect x="537" y="558.3" width="9" height="65.2" fill="#FFEF00"/>
<rect x="546" y="558.3" width="8" height="65.2" fill="#FFDF00"/>
<rect x="554" y="558.3" width="3" height="65.2" fill="#FFCF00"/>
<rect x="557" y="558.3" width="6" height="65.2" fill="#FFDF00"/>
<rect x="563" y="558.3" width="6" height="65.2" fill="#FFEF00"/>
<rect x="569" y="558.3" width="9" height="65.2" fill="#FFFF00"/>
<rect x="578" y="558.3" width="5" height="65.2" fill="#EFFF10"/>
<rect x="583" y="558.3" width="6" height="65.2" fill="#DFFF20"/>
<rect x="589" y="558.3" width="6" height="65.2" fill="#CFFF30"/>
<rect x="595" y="558.3" width="6" height="65.2" fill="#BFFF40"/>
<rect x="601" y="558.3" width="17" height="65.2" fill="#CFFF30"/>
<rect x="618" y="558.3" width="6" height="65.2" fill="#DFFF20"/>
<rect x="624" y="558.3" width="6" height="65.2" fill="#EFFF10"/>
<rect x="630" y="558.3" width="9" height="65.2" fill="#FFFF00"/>
<rect x="639" y="558.3" width="14" height="65.2" fill="#EFFF10"/>
<rect x="653" y="558.3" width="15" height="65.2" fill="#DFFF20"/>
<rect x="668" y="558.3" width="20" height="65.2" fill="#CFFF30"/>
<rect x="688" y="558.3" width="14" height="65.2" fill="#BFFF40"/>
</g>
<rect x="150.2" y="101.9" width="552.3" height="521.6" fill="none" stroke="#222" stroke-width="1.3"/>
<line x1="222.8" y1="623.5" x2="222.8" y2="614.7" stroke="#000" stroke-width="1.3"/>
<line x1="222.8" y1="101.9" x2="222.8" y2="110.7" stroke="#000" stroke-width="1.3"/>
<line x1="295.4" y1="623.5" x2="295.4" y2="614.7" stroke="#000" stroke-width="1.3"/>
<line x1="295.4" y1="101.9" x2="295.4" y2="110.7" stroke="#000" stroke-width="1.3"/>
<line x1="368" y1="623.5" x2="368" y2="614.7" stroke="#000" stroke-width="1.3"/>
<line x1="368" y1="101.9" x2="368" y2="110.7" stroke="#000" stroke-width="1.3"/>
<line x1="440.6" y1="623.5" x2="440.6" y2="614.7" stroke="#000" stroke-width="1.3"/>
<line x1="440.6" y1="101.9" x2="440.6" y2="110.7" stroke="#000" stroke-width="1.3"/>
<line x1="513.2" y1="623.5" x2="513.2" y2="614.7" stroke="#000" stroke-width="1.3"/>
<line x1="513.2" y1="101.9" x2="513.2" y2="110.7" stroke="#000" stroke-width="1.3"/>
<line x1="585.8" y1="623.5" x2="585.8" y2="614.7" stroke="#000" stroke-width="1.3"/>
<line x1="585.8" y1="101.9" x2="585.8" y2="110.7" stroke="#000" stroke-width="1.3"/>
<line x1="658.4" y1="623.5" x2="658.4" y2="614.7" stroke="#000" stroke-width="1.3"/>
<line x1="658.4" y1="101.9" x2="658.4" y2="110.7" stroke="#000" stroke-width="1.3"/>
<line x1="150.2" y1="134.5" x2="156.2" y2="134.5" stroke="#000" stroke-width="1.3"/>
<line x1="702.5" y1="134.5" x2="696.5" y2="134.5" stroke="#000" stroke-width="1.3"/>
<line x1="150.2" y1="199.7" x2="156.2" y2="199.7" stroke="#000" stroke-width="1.3"/>
<line x1="702.5" y1="199.7" x2="696.5" y2="199.7" stroke="#000" stroke-width="1.3"/>
<line x1="150.2" y1="264.9" x2="156.2" y2="264.9" stroke="#000" stroke-width="1.3"/>
<line x1="702.5" y1="264.9" x2="696.5" y2="264.9" stroke="#000" stroke-width="1.3"/>
<line x1="150.2" y1="330.1" x2="156.2" y2="330.1" stroke="#000" stroke-width="1.3"/>
<line x1="702.5" y1="330.1" x2="696.5" y2="330.1" stroke="#000" stroke-width="1.3"/>
<line x1="150.2" y1="395.3" x2="156.2" y2="395.3" stroke="#000" stroke-width="1.3"/>
<line x1="702.5" y1="395.3" x2="696.5" y2="395.3" stroke="#000" stroke-width="1.3"/>
<line x1="150.2" y1="460.5" x2="156.2" y2="460.5" stroke="#000" stroke-width="1.3"/>
<line x1="702.5" y1="460.5" x2="696.5" y2="460.5" stroke="#000" stroke-width="1.3"/>
<line x1="150.2" y1="525.7" x2="156.2" y2="525.7" stroke="#000" stroke-width="1.3"/>
<line x1="702.5" y1="525.7" x2="696.5" y2="525.7" stroke="#000" stroke-width="1.3"/>
<line x1="150.2" y1="590.9" x2="156.2" y2="590.9" stroke="#000" stroke-width="1.3"/>
<line x1="702.5" y1="590.9" x2="696.5" y2="590.9" stroke="#000" stroke-width="1.3"/>
<text transform="translate(151.2 657.8) scale(1 1.04)" font-size="32" text-anchor="middle" fill="#000" stroke="#000" stroke-width="0.5">0</text>
<text transform="translate(296.4 657.8) scale(1 1.04)" font-size="32" text-anchor="middle" fill="#000" stroke="#000" stroke-width="0.5">1</text>
<text transform="translate(441.6 657.8) scale(1 1.04)" font-size="32" text-anchor="middle" fill="#000" stroke="#000" stroke-width="0.5">2</text>
<text transform="translate(586.8 657.8) scale(1 1.04)" font-size="32" text-anchor="middle" fill="#000" stroke="#000" stroke-width="0.5">3</text>
<text x="427" y="688.3" font-size="32" text-anchor="middle" fill="#000" stroke="#000" stroke-width="0.5">Time (s)</text>
<g shape-rendering="crispEdges">
<rect x="729" y="104.3" width="9" height="65.34" fill="#AFFF50"/>
<rect x="738" y="104.3" width="3" height="65.34" fill="#9FFF60"/>
<rect x="741" y="104.3" width="3" height="65.34" fill="#8FFF70"/>
<rect x="744" y="104.3" width="3" height="65.34" fill="#80FF80"/>
<rect x="747" y="104.3" width="6" height="65.34" fill="#70FF8F"/>
<rect x="753" y="104.3" width="3" height="65.34" fill="#60FF9F"/>
<rect x="756" y="104.3" width="3" height="65.34" fill="#50FFAF"/>
<rect x="759" y="104.3" width="3" height="65.34" fill="#40FFBF"/>
<rect x="762" y="104.3" width="14" height="65.34" fill="#30FFCF"/>
<rect x="776" y="104.3" width="9" height="65.34" fill="#20FFDF"/>
<rect x="785" y="104.3" width="12" height="65.34" fill="#10FFEF"/>
<rect x="797" y="104.3" width="8" height="65.34" fill="#00FFFF"/>
<rect x="805" y="104.3" width="9" height="65.34" fill="#10FFEF"/>
<rect x="814" y="104.3" width="9" height="65.34" fill="#20FFDF"/>
<rect x="823" y="104.3" width="9" height="65.34" fill="#30FFCF"/>
<rect x="832" y="104.3" width="9" height="65.34" fill="#40FFBF"/>
<rect x="841" y="104.3" width="8" height="65.34" fill="#50FFAF"/>
<rect x="849" y="104.3" width="9" height="65.34" fill="#60FF9F"/>
<rect x="858" y="104.3" width="9" height="65.34" fill="#70FF8F"/>
<rect x="867" y="104.3" width="6" height="65.34" fill="#80FF80"/>
<rect x="873" y="104.3" width="9" height="65.34" fill="#8FFF70"/>
<rect x="882" y="104.3" width="8" height="65.34" fill="#9FFF60"/>
<rect x="890" y="104.3" width="12" height="65.34" fill="#AFFF50"/>
<rect x="902" y="104.3" width="12" height="65.34" fill="#BFFF40"/>
<rect x="914" y="104.3" width="3" height="65.34" fill="#CFFF30"/>
<rect x="917" y="104.3" width="6" height="65.34" fill="#DFFF20"/>
<rect x="923" y="104.3" width="3" height="65.34" fill="#EFFF10"/>
<rect x="926" y="104.3" width="2" height="65.34" fill="#FFFF00"/>
<rect x="928" y="104.3" width="3" height="65.34" fill="#FFEF00"/>
<rect x="931" y="104.3" width="3" height="65.34" fill="#FFDF00"/>
<rect x="934" y="104.3" width="3" height="65.34" fill="#FFCF00"/>
<rect x="937" y="104.3" width="3" height="65.34" fill="#FFBF00"/>
<rect x="940" y="104.3" width="3" height="65.34" fill="#FFAF00"/>
<rect x="943" y="104.3" width="3" height="65.34" fill="#FF9F00"/>
<rect x="946" y="104.3" width="6" height="65.34" fill="#FF8F00"/>
<rect x="952" y="104.3" width="9" height="65.34" fill="#FF8000"/>
<rect x="961" y="104.3" width="6" height="65.34" fill="#FF7000"/>
<rect x="967" y="104.3" width="2" height="65.34" fill="#FF8000"/>
<rect x="969" y="104.3" width="6" height="65.34" fill="#FF8F00"/>
<rect x="975" y="104.3" width="6" height="65.34" fill="#FF9F00"/>
<rect x="981" y="104.3" width="35" height="65.34" fill="#FFAF00"/>
<rect x="1016" y="104.3" width="15" height="65.34" fill="#FF9F00"/>
<rect x="1031" y="104.3" width="17" height="65.34" fill="#FFAF00"/>
<rect x="1048" y="104.3" width="9" height="65.34" fill="#FFBF00"/>
<rect x="1057" y="104.3" width="12" height="65.34" fill="#FFCF00"/>
<rect x="1069" y="104.3" width="9" height="65.34" fill="#FFDF00"/>
<rect x="1078" y="104.3" width="9" height="65.34" fill="#FFEF00"/>
<rect x="1087" y="104.3" width="14" height="65.34" fill="#FFFF00"/>
<rect x="1101" y="104.3" width="18" height="65.34" fill="#EFFF10"/>
<rect x="1119" y="104.3" width="23" height="65.34" fill="#DFFF20"/>
<rect x="1142" y="104.3" width="24" height="65.34" fill="#CFFF30"/>
<rect x="1166" y="104.3" width="32" height="65.34" fill="#BFFF40"/>
<rect x="1198" y="104.3" width="14" height="65.34" fill="#CFFF30"/>
<rect x="1212" y="104.3" width="21" height="65.34" fill="#DFFF20"/>
<rect x="1233" y="104.3" width="9" height="65.34" fill="#EFFF10"/>
<rect x="1242" y="104.3" width="6" height="65.34" fill="#DFFF20"/>
<rect x="1248" y="104.3" width="3" height="65.34" fill="#CFFF30"/>
<rect x="1251" y="104.3" width="5" height="65.34" fill="#BFFF40"/>
<rect x="1256" y="104.3" width="6" height="65.34" fill="#AFFF50"/>
<rect x="1262" y="104.3" width="6" height="65.34" fill="#9FFF60"/>
<rect x="1268" y="104.3" width="18" height="65.34" fill="#8FFF70"/>
<rect x="729" y="169.64" width="9" height="65.34" fill="#AFFF50"/>
<rect x="738" y="169.64" width="3" height="65.34" fill="#9FFF60"/>
<rect x="741" y="169.64" width="3" height="65.34" fill="#8FFF70"/>
<rect x="744" y="169.64" width="3" height="65.34" fill="#80FF80"/>
<rect x="747" y="169.64" width="3" height="65.34" fill="#60FF9F"/>
<rect x="750" y="169.64" width="3" height="65.34" fill="#50FFAF"/>
<rect x="753" y="169.64" width="3" height="65.34" fill="#40FFBF"/>
<rect x="756" y="169.64" width="3" height="65.34" fill="#30FFCF"/>
<rect x="759" y="169.64" width="41" height="65.34" fill="#10FFEF"/>
<rect x="800" y="169.64" width="26" height="65.34" fill="#20FFDF"/>
<rect x="826" y="169.64" width="35" height="65.34" fill="#30FFCF"/>
<rect x="861" y="169.64" width="18" height="65.34" fill="#40FFBF"/>
<rect x="879" y="169.64" width="14" height="65.34" fill="#50FFAF"/>
<rect x="893" y="169.64" width="6" height="65.34" fill="#60FF9F"/>
<rect x="899" y="169.64" width="9" height="65.34" fill="#70FF8F"/>
<rect x="908" y="169.64" width="6" height="65.34" fill="#80FF80"/>
<rect x="914" y="169.64" width="3" height="65.34" fill="#8FFF70"/>
<rect x="917" y="169.64" width="3" height="65.34" fill="#9FFF60"/>
<rect x="920" y="169.64" width="3" height="65.34" fill="#AFFF50"/>
<rect x="923" y="169.64" width="3" height="65.34" fill="#BFFF40"/>
<rect x="926" y="169.64" width="2" height="65.34" fill="#DFFF20"/>
<rect x="928" y="169.64" width="3" height="65.34" fill="#EFFF10"/>
<rect x="931" y="169.64" width="3" height="65.34" fill="#FFFF00"/>
<rect x="934" y="169.64" width="3" height="65.34" fill="#FFEF00"/>
<rect x="937" y="169.64" width="3" height="65.34" fill="#FFCF00"/>
<rect x="940" y="169.64" width="3" height="65.34" fill="#FFBF00"/>
<rect x="943" y="169.64" width="3" height="65.34" fill="#FFAF00"/>
<rect x="946" y="169.64" width="3" height="65.34" fill="#FF9F00"/>
<rect x="949" y="169.64" width="6" height="65.34" fill="#FF8F00"/>
<rect x="955" y="169.64" width="6" height="65.34" fill="#FF8000"/>
<rect x="961" y="169.64" width="3" height="65.34" fill="#FF7000"/>
<rect x="964" y="169.64" width="3" height="65.34" fill="#FF6000"/>
<rect x="967" y="169.64" width="2" height="65.34" fill="#FF7000"/>
<rect x="969" y="169.64" width="6" height="65.34" fill="#FF8000"/>
<rect x="975" y="169.64" width="3" height="65.34" fill="#FF8F00"/>
<rect x="978" y="169.64" width="9" height="65.34" fill="#FF9F00"/>
<rect x="987" y="169.64" width="12" height="65.34" fill="#FFAF00"/>
<rect x="999" y="169.64" width="6" height="65.34" fill="#FFBF00"/>
<rect x="1005" y="169.64" width="14" height="65.34" fill="#FFAF00"/>
<rect x="1019" y="169.64" width="9" height="65.34" fill="#FF9F00"/>
<rect x="1028" y="169.64" width="9" height="65.34" fill="#FFAF00"/>
<rect x="1037" y="169.64" width="44" height="65.34" fill="#FFBF00"/>
<rect x="1081" y="169.64" width="11" height="65.34" fill="#FFCF00"/>
<rect x="1092" y="169.64" width="9" height="65.34" fill="#FFDF00"/>
<rect x="1101" y="169.64" width="9" height="65.34" fill="#FFEF00"/>
<rect x="1110" y="169.64" width="18" height="65.34" fill="#FFFF00"/>
<rect x="1128" y="169.64" width="14" height="65.34" fill="#EFFF10"/>
<rect x="1142" y="169.64" width="15" height="65.34" fill="#DFFF20"/>
<rect x="1157" y="169.64" width="17" height="65.34" fill="#CFFF30"/>
<rect x="1174" y="169.64" width="36" height="65.34" fill="#BFFF40"/>
<rect x="1210" y="169.64" width="11" height="65.34" fill="#CFFF30"/>
<rect x="1221" y="169.64" width="24" height="65.34" fill="#BFFF40"/>
<rect x="1245" y="169.64" width="14" height="65.34" fill="#AFFF50"/>
<rect x="1259" y="169.64" width="12" height="65.34" fill="#9FFF60"/>
<rect x="1271" y="169.64" width="15" height="65.34" fill="#8FFF70"/>
<rect x="729" y="234.98" width="6" height="65.34" fill="#AFFF50"/>
<rect x="735" y="234.98" width="3" height="65.34" fill="#9FFF60"/>
<rect x="738" y="234.98" width="3" height="65.34" fill="#8FFF70"/>
<rect x="741" y="234.98" width="3" height="65.34" fill="#70FF8F"/>
<rect x="744" y="234.98" width="3" height="65.34" fill="#50FFAF"/>
<rect x="747" y="234.98" width="3" height="65.34" fill="#40FFBF"/>
<rect x="750" y="234.98" width="3" height="65.34" fill="#20FFDF"/>
<rect x="753" y="234.98" width="3" height="65.34" fill="#10FFEF"/>
<rect x="756" y="234.98" width="3" height="65.34" fill="#00EFFF"/>
<rect x="759" y="234.98" width="3" height="65.34" fill="#00DFFF"/>
<rect x="762" y="234.98" width="2" height="65.34" fill="#00CFFF"/>
<rect x="764" y="234.98" width="3" height="65.34" fill="#00BFFF"/>
<rect x="767" y="234.98" width="3" height="65.34" fill="#00AFFF"/>
<rect x="770" y="234.98" width="15" height="65.34" fill="#00BFFF"/>
<rect x="785" y="234.98" width="15" height="65.34" fill="#00CFFF"/>
<rect x="800" y="234.98" width="14" height="65.34" fill="#00DFFF"/>
<rect x="814" y="234.98" width="15" height="65.34" fill="#00EFFF"/>
<rect x="829" y="234.98" width="15" height="65.34" fill="#00FFFF"/>
<rect x="844" y="234.98" width="14" height="65.34" fill="#10FFEF"/>
<rect x="858" y="234.98" width="21" height="65.34" fill="#20FFDF"/>
<rect x="879" y="234.98" width="23" height="65.34" fill="#30FFCF"/>
<rect x="902" y="234.98" width="9" height="65.34" fill="#40FFBF"/>
<rect x="911" y="234.98" width="12" height="65.34" fill="#50FFAF"/>
<rect x="923" y="234.98" width="3" height="65.34" fill="#60FF9F"/>
<rect x="926" y="234.98" width="2" height="65.34" fill="#70FF8F"/>
<rect x="928" y="234.98" width="3" height="65.34" fill="#80FF80"/>
<rect x="931" y="234.98" width="3" height="65.34" fill="#8FFF70"/>
<rect x="934" y="234.98" width="3" height="65.34" fill="#9FFF60"/>
<rect x="937" y="234.98" width="3" height="65.34" fill="#AFFF50"/>
<rect x="940" y="234.98" width="3" height="65.34" fill="#BFFF40"/>
<rect x="943" y="234.98" width="3" height="65.34" fill="#CFFF30"/>
<rect x="946" y="234.98" width="3" height="65.34" fill="#DFFF20"/>
<rect x="949" y="234.98" width="3" height="65.34" fill="#EFFF10"/>
<rect x="952" y="234.98" width="3" height="65.34" fill="#FFFF00"/>
<rect x="955" y="234.98" width="3" height="65.34" fill="#FFEF00"/>
<rect x="958" y="234.98" width="3" height="65.34" fill="#FFDF00"/>
<rect x="961" y="234.98" width="6" height="65.34" fill="#FFCF00"/>
<rect x="967" y="234.98" width="8" height="65.34" fill="#FFBF00"/>
<rect x="975" y="234.98" width="6" height="65.34" fill="#FFCF00"/>
<rect x="981" y="234.98" width="9" height="65.34" fill="#FFDF00"/>
<rect x="990" y="234.98" width="9" height="65.34" fill="#FFEF00"/>
<rect x="999" y="234.98" width="3" height="65.34" fill="#FFFF00"/>
<rect x="1002" y="234.98" width="8" height="65.34" fill="#FFEF00"/>
<rect x="1010" y="234.98" width="9" height="65.34" fill="#FFDF00"/>
<rect x="1019" y="234.98" width="12" height="65.34" fill="#FFCF00"/>
<rect x="1031" y="234.98" width="6" height="65.34" fill="#FFDF00"/>
<rect x="1037" y="234.98" width="6" height="65.34" fill="#FFEF00"/>
<rect x="1043" y="234.98" width="8" height="65.34" fill="#FFFF00"/>
<rect x="1051" y="234.98" width="9" height="65.34" fill="#EFFF10"/>
<rect x="1060" y="234.98" width="6" height="65.34" fill="#FFFF00"/>
<rect x="1066" y="234.98" width="3" height="65.34" fill="#FFEF00"/>
<rect x="1069" y="234.98" width="6" height="65.34" fill="#FFDF00"/>
<rect x="1075" y="234.98" width="3" height="65.34" fill="#FFCF00"/>
<rect x="1078" y="234.98" width="14" height="65.34" fill="#FFDF00"/>
<rect x="1092" y="234.98" width="33" height="65.34" fill="#FFEF00"/>
<rect x="1125" y="234.98" width="3" height="65.34" fill="#FFDF00"/>
<rect x="1128" y="234.98" width="8" height="65.34" fill="#FFEF00"/>
<rect x="1136" y="234.98" width="12" height="65.34" fill="#FFFF00"/>
<rect x="1148" y="234.98" width="15" height="65.34" fill="#EFFF10"/>
<rect x="1163" y="234.98" width="35" height="65.34" fill="#DFFF20"/>
<rect x="1198" y="234.98" width="88" height="65.34" fill="#CFFF30"/>
<rect x="729" y="300.31" width="6" height="65.34" fill="#9FFF60"/>
<rect x="735" y="300.31" width="3" height="65.34" fill="#70FF8F"/>
<rect x="738" y="300.31" width="3" height="65.34" fill="#50FFAF"/>
<rect x="741" y="300.31" width="3" height="65.34" fill="#30FFCF"/>
<rect x="744" y="300.31" width="3" height="65.34" fill="#00FFFF"/>
<rect x="747" y="300.31" width="3" height="65.34" fill="#00CFFF"/>
<rect x="750" y="300.31" width="3" height="65.34" fill="#00BFFF"/>
<rect x="753" y="300.31" width="3" height="65.34" fill="#00AFFF"/>
<rect x="756" y="300.31" width="6" height="65.34" fill="#009FFF"/>
<rect x="762" y="300.31" width="2" height="65.34" fill="#008FFF"/>
<rect x="764" y="300.31" width="44" height="65.34" fill="#0080FF"/>
<rect x="808" y="300.31" width="18" height="65.34" fill="#008FFF"/>
<rect x="826" y="300.31" width="12" height="65.34" fill="#009FFF"/>
<rect x="838" y="300.31" width="14" height="65.34" fill="#00AFFF"/>
<rect x="852" y="300.31" width="12" height="65.34" fill="#00BFFF"/>
<rect x="864" y="300.31" width="9" height="65.34" fill="#00CFFF"/>
<rect x="873" y="300.31" width="12" height="65.34" fill="#00BFFF"/>
<rect x="885" y="300.31" width="8" height="65.34" fill="#00AFFF"/>
<rect x="893" y="300.31" width="15" height="65.34" fill="#009FFF"/>
<rect x="908" y="300.31" width="3" height="65.34" fill="#00AFFF"/>
<rect x="911" y="300.31" width="3" height="65.34" fill="#00BFFF"/>
<rect x="914" y="300.31" width="3" height="65.34" fill="#00CFFF"/>
<rect x="917" y="300.31" width="3" height="65.34" fill="#00DFFF"/>
<rect x="920" y="300.31" width="3" height="65.34" fill="#00EFFF"/>
<rect x="923" y="300.31" width="3" height="65.34" fill="#00FFFF"/>
<rect x="926" y="300.31" width="5" height="65.34" fill="#10FFEF"/>
<rect x="931" y="300.31" width="6" height="65.34" fill="#20FFDF"/>
<rect x="937" y="300.31" width="3" height="65.34" fill="#30FFCF"/>
<rect x="940" y="300.31" width="6" height="65.34" fill="#40FFBF"/>
<rect x="946" y="300.31" width="3" height="65.34" fill="#50FFAF"/>
<rect x="949" y="300.31" width="6" height="65.34" fill="#60FF9F"/>
<rect x="955" y="300.31" width="3" height="65.34" fill="#70FF8F"/>
<rect x="958" y="300.31" width="6" height="65.34" fill="#80FF80"/>
<rect x="964" y="300.31" width="3" height="65.34" fill="#8FFF70"/>
<rect x="967" y="300.31" width="8" height="65.34" fill="#9FFF60"/>
<rect x="975" y="300.31" width="15" height="65.34" fill="#AFFF50"/>
<rect x="990" y="300.31" width="15" height="65.34" fill="#BFFF40"/>
<rect x="1005" y="300.31" width="20" height="65.34" fill="#CFFF30"/>
<rect x="1025" y="300.31" width="21" height="65.34" fill="#DFFF20"/>
<rect x="1046" y="300.31" width="43" height="65.34" fill="#EFFF10"/>
<rect x="1089" y="300.31" width="18" height="65.34" fill="#FFFF00"/>
<rect x="1107" y="300.31" width="15" height="65.34" fill="#FFEF00"/>
<rect x="1122" y="300.31" width="3" height="65.34" fill="#FFDF00"/>
<rect x="1125" y="300.31" width="26" height="65.34" fill="#FFEF00"/>
<rect x="1151" y="300.31" width="12" height="65.34" fill="#FFDF00"/>
<rect x="1163" y="300.31" width="8" height="65.34" fill="#FFEF00"/>
<rect x="1171" y="300.31" width="12" height="65.34" fill="#FFFF00"/>
<rect x="1183" y="300.31" width="3" height="65.34" fill="#EFFF10"/>
<rect x="1186" y="300.31" width="38" height="65.34" fill="#FFFF00"/>
<rect x="1224" y="300.31" width="21" height="65.34" fill="#EFFF10"/>
<rect x="1245" y="300.31" width="41" height="65.34" fill="#DFFF20"/>
<rect x="729" y="365.65" width="6" height="65.34" fill="#50FFAF"/>
<rect x="735" y="365.65" width="3" height="65.34" fill="#30FFCF"/>
<rect x="738" y="365.65" width="3" height="65.34" fill="#10FFEF"/>
<rect x="741" y="365.65" width="3" height="65.34" fill="#00EFFF"/>
<rect x="744" y="365.65" width="3" height="65.34" fill="#00CFFF"/>
<rect x="747" y="365.65" width="3" height="65.34" fill="#009FFF"/>
<rect x="750" y="365.65" width="6" height="65.34" fill="#008FFF"/>
<rect x="756" y="365.65" width="6" height="65.34" fill="#0080FF"/>
<rect x="762" y="365.65" width="5" height="65.34" fill="#0070FF"/>
<rect x="767" y="365.65" width="15" height="65.34" fill="#0060FF"/>
<rect x="782" y="365.65" width="21" height="65.34" fill="#0050FF"/>
<rect x="803" y="365.65" width="11" height="65.34" fill="#0060FF"/>
<rect x="814" y="365.65" width="15" height="65.34" fill="#0070FF"/>
<rect x="829" y="365.65" width="12" height="65.34" fill="#0080FF"/>
<rect x="841" y="365.65" width="11" height="65.34" fill="#008FFF"/>
<rect x="852" y="365.65" width="9" height="65.34" fill="#009FFF"/>
<rect x="861" y="365.65" width="32" height="65.34" fill="#00AFFF"/>
<rect x="893" y="365.65" width="6" height="65.34" fill="#009FFF"/>
<rect x="899" y="365.65" width="6" height="65.34" fill="#008FFF"/>
<rect x="905" y="365.65" width="9" height="65.34" fill="#0080FF"/>
<rect x="914" y="365.65" width="9" height="65.34" fill="#008FFF"/>
<rect x="923" y="365.65" width="5" height="65.34" fill="#009FFF"/>
<rect x="928" y="365.65" width="6" height="65.34" fill="#00AFFF"/>
<rect x="934" y="365.65" width="3" height="65.34" fill="#00BFFF"/>
<rect x="937" y="365.65" width="6" height="65.34" fill="#00CFFF"/>
<rect x="943" y="365.65" width="3" height="65.34" fill="#00DFFF"/>
<rect x="946" y="365.65" width="6" height="65.34" fill="#00EFFF"/>
<rect x="952" y="365.65" width="6" height="65.34" fill="#00FFFF"/>
<rect x="958" y="365.65" width="6" height="65.34" fill="#10FFEF"/>
<rect x="964" y="365.65" width="8" height="65.34" fill="#20FFDF"/>
<rect x="972" y="365.65" width="6" height="65.34" fill="#30FFCF"/>
<rect x="978" y="365.65" width="9" height="65.34" fill="#40FFBF"/>
<rect x="987" y="365.65" width="6" height="65.34" fill="#50FFAF"/>
<rect x="993" y="365.65" width="9" height="65.34" fill="#60FF9F"/>
<rect x="1002" y="365.65" width="8" height="65.34" fill="#70FF8F"/>
<rect x="1010" y="365.65" width="9" height="65.34" fill="#80FF80"/>
<rect x="1019" y="365.65" width="9" height="65.34" fill="#8FFF70"/>
<rect x="1028" y="365.65" width="9" height="65.34" fill="#9FFF60"/>
<rect x="1037" y="365.65" width="11" height="65.34" fill="#AFFF50"/>
<rect x="1048" y="365.65" width="12" height="65.34" fill="#BFFF40"/>
<rect x="1060" y="365.65" width="12" height="65.34" fill="#CFFF30"/>
<rect x="1072" y="365.65" width="17" height="65.34" fill="#DFFF20"/>
<rect x="1089" y="365.65" width="21" height="65.34" fill="#EFFF10"/>
<rect x="1110" y="365.65" width="32" height="65.34" fill="#FFFF00"/>
<rect x="1142" y="365.65" width="12" height="65.34" fill="#FFEF00"/>
<rect x="1154" y="365.65" width="20" height="65.34" fill="#FFDF00"/>
<rect x="1174" y="365.65" width="18" height="65.34" fill="#FFEF00"/>
<rect x="1192" y="365.65" width="12" height="65.34" fill="#FFDF00"/>
<rect x="1204" y="365.65" width="11" height="65.34" fill="#FFCF00"/>
<rect x="1215" y="365.65" width="18" height="65.34" fill="#FFDF00"/>
<rect x="1233" y="365.65" width="53" height="65.34" fill="#FFEF00"/>
<rect x="729" y="430.99" width="6" height="65.34" fill="#40FFBF"/>
<rect x="735" y="430.99" width="3" height="65.34" fill="#20FFDF"/>
<rect x="738" y="430.99" width="3" height="65.34" fill="#10FFEF"/>
<rect x="741" y="430.99" width="3" height="65.34" fill="#00EFFF"/>
<rect x="744" y="430.99" width="3" height="65.34" fill="#00CFFF"/>
<rect x="747" y="430.99" width="3" height="65.34" fill="#009FFF"/>
<rect x="750" y="430.99" width="6" height="65.34" fill="#008FFF"/>
<rect x="756" y="430.99" width="3" height="65.34" fill="#0080FF"/>
<rect x="759" y="430.99" width="5" height="65.34" fill="#0070FF"/>
<rect x="764" y="430.99" width="12" height="65.34" fill="#0060FF"/>
<rect x="776" y="430.99" width="15" height="65.34" fill="#0050FF"/>
<rect x="791" y="430.99" width="12" height="65.34" fill="#0040FF"/>
<rect x="803" y="430.99" width="14" height="65.34" fill="#0050FF"/>
<rect x="817" y="430.99" width="12" height="65.34" fill="#0060FF"/>
<rect x="829" y="430.99" width="9" height="65.34" fill="#0070FF"/>
<rect x="838" y="430.99" width="8" height="65.34" fill="#0080FF"/>
<rect x="846" y="430.99" width="9" height="65.34" fill="#008FFF"/>
<rect x="855" y="430.99" width="12" height="65.34" fill="#009FFF"/>
<rect x="867" y="430.99" width="23" height="65.34" fill="#00AFFF"/>
<rect x="890" y="430.99" width="36" height="65.34" fill="#009FFF"/>
<rect x="926" y="430.99" width="17" height="65.34" fill="#00AFFF"/>
<rect x="943" y="430.99" width="6" height="65.34" fill="#00BFFF"/>
<rect x="949" y="430.99" width="9" height="65.34" fill="#00CFFF"/>
<rect x="958" y="430.99" width="6" height="65.34" fill="#00DFFF"/>
<rect x="964" y="430.99" width="8" height="65.34" fill="#00EFFF"/>
<rect x="972" y="430.99" width="9" height="65.34" fill="#00FFFF"/>
<rect x="981" y="430.99" width="6" height="65.34" fill="#10FFEF"/>
<rect x="987" y="430.99" width="9" height="65.34" fill="#20FFDF"/>
<rect x="996" y="430.99" width="6" height="65.34" fill="#30FFCF"/>
<rect x="1002" y="430.99" width="6" height="65.34" fill="#40FFBF"/>
<rect x="1008" y="430.99" width="5" height="65.34" fill="#50FFAF"/>
<rect x="1013" y="430.99" width="6" height="65.34" fill="#60FF9F"/>
<rect x="1019" y="430.99" width="9" height="65.34" fill="#70FF8F"/>
<rect x="1028" y="430.99" width="6" height="65.34" fill="#80FF80"/>
<rect x="1034" y="430.99" width="6" height="65.34" fill="#8FFF70"/>
<rect x="1040" y="430.99" width="6" height="65.34" fill="#9FFF60"/>
<rect x="1046" y="430.99" width="8" height="65.34" fill="#AFFF50"/>
<rect x="1054" y="430.99" width="12" height="65.34" fill="#BFFF40"/>
<rect x="1066" y="430.99" width="12" height="65.34" fill="#CFFF30"/>
<rect x="1078" y="430.99" width="29" height="65.34" fill="#DFFF20"/>
<rect x="1107" y="430.99" width="32" height="65.34" fill="#EFFF10"/>
<rect x="1139" y="430.99" width="27" height="65.34" fill="#FFFF00"/>
<rect x="1166" y="430.99" width="23" height="65.34" fill="#FFEF00"/>
<rect x="1189" y="430.99" width="9" height="65.34" fill="#FFDF00"/>
<rect x="1198" y="430.99" width="9" height="65.34" fill="#FFCF00"/>
<rect x="1207" y="430.99" width="17" height="65.34" fill="#FFBF00"/>
<rect x="1224" y="430.99" width="9" height="65.34" fill="#FFCF00"/>
<rect x="1233" y="430.99" width="12" height="65.34" fill="#FFDF00"/>
<rect x="1245" y="430.99" width="14" height="65.34" fill="#FFEF00"/>
<rect x="1259" y="430.99" width="15" height="65.34" fill="#FFFF00"/>
<rect x="1274" y="430.99" width="12" height="65.34" fill="#EFFF10"/>
<rect x="729" y="496.33" width="9" height="65.34" fill="#60FF9F"/>
<rect x="738" y="496.33" width="3" height="65.34" fill="#40FFBF"/>
<rect x="741" y="496.33" width="3" height="65.34" fill="#30FFCF"/>
<rect x="744" y="496.33" width="3" height="65.34" fill="#10FFEF"/>
<rect x="747" y="496.33" width="3" height="65.34" fill="#00FFFF"/>
<rect x="750" y="496.33" width="3" height="65.34" fill="#00EFFF"/>
<rect x="753" y="496.33" width="3" height="65.34" fill="#00DFFF"/>
<rect x="756" y="496.33" width="3" height="65.34" fill="#00BFFF"/>
<rect x="759" y="496.33" width="3" height="65.34" fill="#00AFFF"/>
<rect x="762" y="496.33" width="2" height="65.34" fill="#009FFF"/>
<rect x="764" y="496.33" width="3" height="65.34" fill="#008FFF"/>
<rect x="767" y="496.33" width="3" height="65.34" fill="#0080FF"/>
<rect x="770" y="496.33" width="3" height="65.34" fill="#0070FF"/>
<rect x="773" y="496.33" width="12" height="65.34" fill="#0060FF"/>
<rect x="785" y="496.33" width="9" height="65.34" fill="#0050FF"/>
<rect x="794" y="496.33" width="9" height="65.34" fill="#0040FF"/>
<rect x="803" y="496.33" width="8" height="65.34" fill="#0050FF"/>
<rect x="811" y="496.33" width="6" height="65.34" fill="#0060FF"/>
<rect x="817" y="496.33" width="9" height="65.34" fill="#0070FF"/>
<rect x="826" y="496.33" width="3" height="65.34" fill="#0080FF"/>
<rect x="829" y="496.33" width="6" height="65.34" fill="#008FFF"/>
<rect x="835" y="496.33" width="6" height="65.34" fill="#009FFF"/>
<rect x="841" y="496.33" width="5" height="65.34" fill="#00AFFF"/>
<rect x="846" y="496.33" width="6" height="65.34" fill="#00BFFF"/>
<rect x="852" y="496.33" width="15" height="65.34" fill="#00CFFF"/>
<rect x="867" y="496.33" width="32" height="65.34" fill="#00DFFF"/>
<rect x="899" y="496.33" width="27" height="65.34" fill="#00CFFF"/>
<rect x="926" y="496.33" width="14" height="65.34" fill="#00DFFF"/>
<rect x="940" y="496.33" width="12" height="65.34" fill="#00EFFF"/>
<rect x="952" y="496.33" width="9" height="65.34" fill="#00FFFF"/>
<rect x="961" y="496.33" width="11" height="65.34" fill="#10FFEF"/>
<rect x="972" y="496.33" width="15" height="65.34" fill="#20FFDF"/>
<rect x="987" y="496.33" width="12" height="65.34" fill="#30FFCF"/>
<rect x="999" y="496.33" width="11" height="65.34" fill="#40FFBF"/>
<rect x="1010" y="496.33" width="9" height="65.34" fill="#50FFAF"/>
<rect x="1019" y="496.33" width="12" height="65.34" fill="#60FF9F"/>
<rect x="1031" y="496.33" width="9" height="65.34" fill="#70FF8F"/>
<rect x="1040" y="496.33" width="8" height="65.34" fill="#80FF80"/>
<rect x="1048" y="496.33" width="9" height="65.34" fill="#8FFF70"/>
<rect x="1057" y="496.33" width="9" height="65.34" fill="#9FFF60"/>
<rect x="1066" y="496.33" width="9" height="65.34" fill="#AFFF50"/>
<rect x="1075" y="496.33" width="9" height="65.34" fill="#BFFF40"/>
<rect x="1084" y="496.33" width="44" height="65.34" fill="#CFFF30"/>
<rect x="1128" y="496.33" width="38" height="65.34" fill="#DFFF20"/>
<rect x="1166" y="496.33" width="26" height="65.34" fill="#EFFF10"/>
<rect x="1192" y="496.33" width="15" height="65.34" fill="#FFFF00"/>
<rect x="1207" y="496.33" width="5" height="65.34" fill="#FFEF00"/>
<rect x="1212" y="496.33" width="12" height="65.34" fill="#FFDF00"/>
<rect x="1224" y="496.33" width="6" height="65.34" fill="#FFEF00"/>
<rect x="1230" y="496.33" width="9" height="65.34" fill="#FFFF00"/>
<rect x="1239" y="496.33" width="14" height="65.34" fill="#EFFF10"/>
<rect x="1253" y="496.33" width="33" height="65.34" fill="#DFFF20"/>
<rect x="729" y="561.66" width="15" height="65.34" fill="#8FFF70"/>
<rect x="744" y="561.66" width="3" height="65.34" fill="#80FF80"/>
<rect x="747" y="561.66" width="6" height="65.34" fill="#70FF8F"/>
<rect x="753" y="561.66" width="6" height="65.34" fill="#60FF9F"/>
<rect x="759" y="561.66" width="3" height="65.34" fill="#40FFBF"/>
<rect x="762" y="561.66" width="2" height="65.34" fill="#30FFCF"/>
<rect x="764" y="561.66" width="3" height="65.34" fill="#10FFEF"/>
<rect x="767" y="561.66" width="3" height="65.34" fill="#00FFFF"/>
<rect x="770" y="561.66" width="3" height="65.34" fill="#00EFFF"/>
<rect x="773" y="561.66" width="3" height="65.34" fill="#00CFFF"/>
<rect x="776" y="561.66" width="3" height="65.34" fill="#00BFFF"/>
<rect x="779" y="561.66" width="3" height="65.34" fill="#00AFFF"/>
<rect x="782" y="561.66" width="3" height="65.34" fill="#009FFF"/>
<rect x="785" y="561.66" width="6" height="65.34" fill="#008FFF"/>
<rect x="791" y="561.66" width="3" height="65.34" fill="#0080FF"/>
<rect x="794" y="561.66" width="9" height="65.34" fill="#0070FF"/>
<rect x="803" y="561.66" width="8" height="65.34" fill="#0060FF"/>
<rect x="811" y="561.66" width="9" height="65.34" fill="#0070FF"/>
<rect x="820" y="561.66" width="6" height="65.34" fill="#0080FF"/>
<rect x="826" y="561.66" width="3" height="65.34" fill="#008FFF"/>
<rect x="829" y="561.66" width="3" height="65.34" fill="#00AFFF"/>
<rect x="832" y="561.66" width="3" height="65.34" fill="#00BFFF"/>
<rect x="835" y="561.66" width="6" height="65.34" fill="#00CFFF"/>
<rect x="841" y="561.66" width="3" height="65.34" fill="#00DFFF"/>
<rect x="844" y="561.66" width="2" height="65.34" fill="#00EFFF"/>
<rect x="846" y="561.66" width="6" height="65.34" fill="#00FFFF"/>
<rect x="852" y="561.66" width="6" height="65.34" fill="#10FFEF"/>
<rect x="858" y="561.66" width="6" height="65.34" fill="#20FFDF"/>
<rect x="864" y="561.66" width="6" height="65.34" fill="#30FFCF"/>
<rect x="870" y="561.66" width="15" height="65.34" fill="#40FFBF"/>
<rect x="885" y="561.66" width="5" height="65.34" fill="#50FFAF"/>
<rect x="890" y="561.66" width="9" height="65.34" fill="#40FFBF"/>
<rect x="899" y="561.66" width="12" height="65.34" fill="#30FFCF"/>
<rect x="911" y="561.66" width="9" height="65.34" fill="#20FFDF"/>
<rect x="920" y="561.66" width="23" height="65.34" fill="#30FFCF"/>
<rect x="943" y="561.66" width="35" height="65.34" fill="#40FFBF"/>
<rect x="978" y="561.66" width="27" height="65.34" fill="#50FFAF"/>
<rect x="1005" y="561.66" width="23" height="65.34" fill="#60FF9F"/>
<rect x="1028" y="561.66" width="18" height="65.34" fill="#70FF8F"/>
<rect x="1046" y="561.66" width="14" height="65.34" fill="#80FF80"/>
<rect x="1060" y="561.66" width="9" height="65.34" fill="#8FFF70"/>
<rect x="1069" y="561.66" width="6" height="65.34" fill="#9FFF60"/>
<rect x="1075" y="561.66" width="3" height="65.34" fill="#AFFF50"/>
<rect x="1078" y="561.66" width="6" height="65.34" fill="#BFFF40"/>
<rect x="1084" y="561.66" width="8" height="65.34" fill="#CFFF30"/>
<rect x="1092" y="561.66" width="9" height="65.34" fill="#DFFF20"/>
<rect x="1101" y="561.66" width="21" height="65.34" fill="#EFFF10"/>
<rect x="1122" y="561.66" width="49" height="65.34" fill="#DFFF20"/>
<rect x="1171" y="561.66" width="39" height="65.34" fill="#CFFF30"/>
<rect x="1210" y="561.66" width="76" height="65.34" fill="#BFFF40"/>
</g>
<rect x="729.3" y="104.3" width="556.4" height="522.7" fill="none" stroke="#000" stroke-width="2"/>
<line x1="802.5" y1="627" x2="802.5" y2="618.2" stroke="#000" stroke-width="2"/>
<line x1="802.5" y1="104.3" x2="802.5" y2="113.1" stroke="#000" stroke-width="2"/>
<line x1="875.7" y1="627" x2="875.7" y2="618.2" stroke="#000" stroke-width="2"/>
<line x1="875.7" y1="104.3" x2="875.7" y2="113.1" stroke="#000" stroke-width="2"/>
<line x1="948.9" y1="627" x2="948.9" y2="618.2" stroke="#000" stroke-width="2"/>
<line x1="948.9" y1="104.3" x2="948.9" y2="113.1" stroke="#000" stroke-width="2"/>
<line x1="1022.1" y1="627" x2="1022.1" y2="618.2" stroke="#000" stroke-width="2"/>
<line x1="1022.1" y1="104.3" x2="1022.1" y2="113.1" stroke="#000" stroke-width="2"/>
<line x1="1095.3" y1="627" x2="1095.3" y2="618.2" stroke="#000" stroke-width="2"/>
<line x1="1095.3" y1="104.3" x2="1095.3" y2="113.1" stroke="#000" stroke-width="2"/>
<line x1="1168.5" y1="627" x2="1168.5" y2="618.2" stroke="#000" stroke-width="2"/>
<line x1="1168.5" y1="104.3" x2="1168.5" y2="113.1" stroke="#000" stroke-width="2"/>
<line x1="1241.7" y1="627" x2="1241.7" y2="618.2" stroke="#000" stroke-width="2"/>
<line x1="1241.7" y1="104.3" x2="1241.7" y2="113.1" stroke="#000" stroke-width="2"/>
<line x1="729.3" y1="136.97" x2="735.3" y2="136.97" stroke="#000" stroke-width="2"/>
<line x1="1285.7" y1="136.97" x2="1279.7" y2="136.97" stroke="#000" stroke-width="2"/>
<line x1="729.3" y1="202.31" x2="735.3" y2="202.31" stroke="#000" stroke-width="2"/>
<line x1="1285.7" y1="202.31" x2="1279.7" y2="202.31" stroke="#000" stroke-width="2"/>
<line x1="729.3" y1="267.64" x2="735.3" y2="267.64" stroke="#000" stroke-width="2"/>
<line x1="1285.7" y1="267.64" x2="1279.7" y2="267.64" stroke="#000" stroke-width="2"/>
<line x1="729.3" y1="332.98" x2="735.3" y2="332.98" stroke="#000" stroke-width="2"/>
<line x1="1285.7" y1="332.98" x2="1279.7" y2="332.98" stroke="#000" stroke-width="2"/>
<line x1="729.3" y1="398.32" x2="735.3" y2="398.32" stroke="#000" stroke-width="2"/>
<line x1="1285.7" y1="398.32" x2="1279.7" y2="398.32" stroke="#000" stroke-width="2"/>
<line x1="729.3" y1="463.66" x2="735.3" y2="463.66" stroke="#000" stroke-width="2"/>
<line x1="1285.7" y1="463.66" x2="1279.7" y2="463.66" stroke="#000" stroke-width="2"/>
<line x1="729.3" y1="528.99" x2="735.3" y2="528.99" stroke="#000" stroke-width="2"/>
<line x1="1285.7" y1="528.99" x2="1279.7" y2="528.99" stroke="#000" stroke-width="2"/>
<line x1="729.3" y1="594.33" x2="735.3" y2="594.33" stroke="#000" stroke-width="2"/>
<line x1="1285.7" y1="594.33" x2="1279.7" y2="594.33" stroke="#000" stroke-width="2"/>
<text transform="translate(732.3 658.4) scale(1 1.04)" font-size="32" text-anchor="middle" fill="#000" stroke="#000" stroke-width="0.5">0</text>
<text transform="translate(878.7 658.4) scale(1 1.04)" font-size="32" text-anchor="middle" fill="#000" stroke="#000" stroke-width="0.5">1</text>
<text transform="translate(1025.1 658.4) scale(1 1.04)" font-size="32" text-anchor="middle" fill="#000" stroke="#000" stroke-width="0.5">2</text>
<text transform="translate(1171.5 658.4) scale(1 1.04)" font-size="32" text-anchor="middle" fill="#000" stroke="#000" stroke-width="0.5">3</text>
<text x="1007.7" y="688.3" font-size="32" text-anchor="middle" fill="#000" stroke="#000" stroke-width="0.5">Time (s)</text>
<g shape-rendering="crispEdges">
<rect x="1307.8" y="103.3" width="556.7" height="522.6" fill="#8FFF70"/>
<rect x="1383.85" y="103.3" width="37.45" height="65.33" fill="#00FFFF"/>
<rect x="1421.3" y="103.3" width="11.58" height="65.33" fill="#00CFFF"/>
<rect x="1432.88" y="103.3" width="11.58" height="65.33" fill="#009FFF"/>
<rect x="1444.47" y="103.3" width="23.16" height="65.33" fill="#008FFF"/>
<rect x="1467.63" y="103.3" width="11.58" height="65.33" fill="#009FFF"/>
<rect x="1479.21" y="103.3" width="13.51" height="65.33" fill="#00CFFF"/>
<rect x="1492.72" y="103.3" width="38.61" height="65.33" fill="#00EFFF"/>
<rect x="1531.33" y="103.3" width="3.86" height="65.33" fill="#00FFFF"/>
<rect x="1577.66" y="103.3" width="25.87" height="65.33" fill="#00FFFF"/>
<rect x="1385.78" y="168.62" width="35.52" height="65.32" fill="#00FFFF"/>
<rect x="1421.3" y="168.62" width="15.44" height="65.32" fill="#00DFFF"/>
<rect x="1436.74" y="168.62" width="17.37" height="65.32" fill="#009FFF"/>
<rect x="1454.12" y="168.62" width="17.37" height="65.32" fill="#00AFFF"/>
<rect x="1471.49" y="168.62" width="11.58" height="65.32" fill="#00DFFF"/>
<rect x="1483.07" y="168.62" width="34.75" height="65.32" fill="#00EFFF"/>
<rect x="1595.03" y="168.62" width="19.3" height="65.32" fill="#00DFFF"/>
<rect x="1614.33" y="168.62" width="10.04" height="65.32" fill="#10FFEF"/>
<rect x="1836.32" y="168.62" width="8.11" height="65.32" fill="#30FFCF"/>
<rect x="1390.42" y="233.95" width="7.72" height="65.33" fill="#20FFDF"/>
<rect x="1398.14" y="233.95" width="34.75" height="65.33" fill="#00FFFF"/>
<rect x="1432.88" y="233.95" width="7.72" height="65.33" fill="#00DFFF"/>
<rect x="1440.6" y="233.95" width="28.95" height="65.33" fill="#00BFFF"/>
<rect x="1469.56" y="233.95" width="9.65" height="65.33" fill="#00DFFF"/>
<rect x="1479.21" y="233.95" width="35.52" height="65.33" fill="#00FFFF"/>
<rect x="1604.68" y="233.95" width="1.54" height="65.33" fill="#10FFEF"/>
<rect x="1395.82" y="299.28" width="10.04" height="65.32" fill="#30FFCF"/>
<rect x="1405.86" y="299.28" width="34.75" height="65.32" fill="#10FFEF"/>
<rect x="1440.6" y="299.28" width="28.95" height="65.32" fill="#00EFFF"/>
<rect x="1469.56" y="299.28" width="21.23" height="65.32" fill="#00FFFF"/>
<rect x="1490.79" y="299.28" width="7.72" height="65.32" fill="#10FFEF"/>
<rect x="1498.51" y="299.28" width="21.23" height="65.32" fill="#00FFFF"/>
<rect x="1403.16" y="364.6" width="22.01" height="65.32" fill="#30FFCF"/>
<rect x="1425.16" y="364.6" width="42.47" height="65.32" fill="#00FFFF"/>
<rect x="1467.63" y="364.6" width="30.88" height="65.32" fill="#20FFDF"/>
<rect x="1498.51" y="364.6" width="37.83" height="65.32" fill="#00FFFF"/>
<rect x="1414.35" y="429.93" width="22.39" height="65.33" fill="#20FFDF"/>
<rect x="1436.74" y="429.93" width="61.77" height="65.33" fill="#10FFEF"/>
<rect x="1498.51" y="429.93" width="55.21" height="65.33" fill="#00FFFF"/>
<rect x="1592.33" y="429.93" width="11.58" height="65.33" fill="#20FFDF"/>
<rect x="1413.58" y="495.25" width="38.61" height="65.32" fill="#20FFDF"/>
<rect x="1452.19" y="495.25" width="48.26" height="65.32" fill="#10FFEF"/>
<rect x="1500.44" y="495.25" width="36.68" height="65.32" fill="#00DFFF"/>
<rect x="1537.12" y="495.25" width="16.6" height="65.32" fill="#00FFFF"/>
<rect x="1425.16" y="560.58" width="30.88" height="65.32" fill="#20FFDF"/>
<rect x="1456.05" y="560.58" width="25.09" height="65.32" fill="#00FFFF"/>
<rect x="1481.14" y="560.58" width="40.54" height="65.32" fill="#00DFFF"/>
<rect x="1521.68" y="560.58" width="18.53" height="65.32" fill="#00FFFF"/>
</g>
<rect x="1307.8" y="103.3" width="556.7" height="522.6" fill="none" stroke="#000" stroke-width="2"/>
<line x1="1380.95" y1="625.9" x2="1380.95" y2="617.1" stroke="#000" stroke-width="2"/>
<line x1="1380.95" y1="103.3" x2="1380.95" y2="112.1" stroke="#000" stroke-width="2"/>
<line x1="1454.1" y1="625.9" x2="1454.1" y2="617.1" stroke="#000" stroke-width="2"/>
<line x1="1454.1" y1="103.3" x2="1454.1" y2="112.1" stroke="#000" stroke-width="2"/>
<line x1="1527.25" y1="625.9" x2="1527.25" y2="617.1" stroke="#000" stroke-width="2"/>
<line x1="1527.25" y1="103.3" x2="1527.25" y2="112.1" stroke="#000" stroke-width="2"/>
<line x1="1600.4" y1="625.9" x2="1600.4" y2="617.1" stroke="#000" stroke-width="2"/>
<line x1="1600.4" y1="103.3" x2="1600.4" y2="112.1" stroke="#000" stroke-width="2"/>
<line x1="1673.55" y1="625.9" x2="1673.55" y2="617.1" stroke="#000" stroke-width="2"/>
<line x1="1673.55" y1="103.3" x2="1673.55" y2="112.1" stroke="#000" stroke-width="2"/>
<line x1="1746.7" y1="625.9" x2="1746.7" y2="617.1" stroke="#000" stroke-width="2"/>
<line x1="1746.7" y1="103.3" x2="1746.7" y2="112.1" stroke="#000" stroke-width="2"/>
<line x1="1819.85" y1="625.9" x2="1819.85" y2="617.1" stroke="#000" stroke-width="2"/>
<line x1="1819.85" y1="103.3" x2="1819.85" y2="112.1" stroke="#000" stroke-width="2"/>
<line x1="1307.8" y1="135.96" x2="1313.8" y2="135.96" stroke="#000" stroke-width="2"/>
<line x1="1864.5" y1="135.96" x2="1858.5" y2="135.96" stroke="#000" stroke-width="2"/>
<line x1="1307.8" y1="201.29" x2="1313.8" y2="201.29" stroke="#000" stroke-width="2"/>
<line x1="1864.5" y1="201.29" x2="1858.5" y2="201.29" stroke="#000" stroke-width="2"/>
<line x1="1307.8" y1="266.61" x2="1313.8" y2="266.61" stroke="#000" stroke-width="2"/>
<line x1="1864.5" y1="266.61" x2="1858.5" y2="266.61" stroke="#000" stroke-width="2"/>
<line x1="1307.8" y1="331.94" x2="1313.8" y2="331.94" stroke="#000" stroke-width="2"/>
<line x1="1864.5" y1="331.94" x2="1858.5" y2="331.94" stroke="#000" stroke-width="2"/>
<line x1="1307.8" y1="397.26" x2="1313.8" y2="397.26" stroke="#000" stroke-width="2"/>
<line x1="1864.5" y1="397.26" x2="1858.5" y2="397.26" stroke="#000" stroke-width="2"/>
<line x1="1307.8" y1="462.59" x2="1313.8" y2="462.59" stroke="#000" stroke-width="2"/>
<line x1="1864.5" y1="462.59" x2="1858.5" y2="462.59" stroke="#000" stroke-width="2"/>
<line x1="1307.8" y1="527.91" x2="1313.8" y2="527.91" stroke="#000" stroke-width="2"/>
<line x1="1864.5" y1="527.91" x2="1858.5" y2="527.91" stroke="#000" stroke-width="2"/>
<line x1="1307.8" y1="593.24" x2="1313.8" y2="593.24" stroke="#000" stroke-width="2"/>
<line x1="1864.5" y1="593.24" x2="1858.5" y2="593.24" stroke="#000" stroke-width="2"/>
<text transform="translate(1310.8 658.4) scale(1 1.04)" font-size="32" text-anchor="middle" fill="#000" stroke="#000" stroke-width="0.5">0</text>
<text transform="translate(1457.1 658.4) scale(1 1.04)" font-size="32" text-anchor="middle" fill="#000" stroke="#000" stroke-width="0.5">1</text>
<text transform="translate(1603.4 658.4) scale(1 1.04)" font-size="32" text-anchor="middle" fill="#000" stroke="#000" stroke-width="0.5">2</text>
<text transform="translate(1749.7 658.4) scale(1 1.04)" font-size="32" text-anchor="middle" fill="#000" stroke="#000" stroke-width="0.5">3</text>
<text x="1586.6" y="688.3" font-size="32" text-anchor="middle" fill="#000" stroke="#000" stroke-width="0.5">Time (s)</text>
<text transform="translate(139.5 212.1) scale(1 1.04)" font-size="32" text-anchor="end" fill="#000" stroke="#000" stroke-width="0.5">14</text>
<text transform="translate(139.5 342.6) scale(1 1.04)" font-size="32" text-anchor="end" fill="#000" stroke="#000" stroke-width="0.5">12</text>
<text transform="translate(139.5 472.1) scale(1 1.04)" font-size="32" text-anchor="end" fill="#000" stroke="#000" stroke-width="0.5">10</text>
<text transform="translate(139.5 603.3) scale(1 1.04)" font-size="32" text-anchor="end" fill="#000" stroke="#000" stroke-width="0.5">8</text>
<text transform="translate(68.9 375.2) rotate(-90)" font-size="28.7" text-anchor="middle" stroke="#000" stroke-width="0.5">Frequency (Hz)</text>
<g shape-rendering="crispEdges">
<rect x="1895.5" y="103" width="41" height="8" fill="#800000"/>
<rect x="1895.5" y="111" width="41" height="9" fill="#8F0000"/>
<rect x="1895.5" y="120" width="41" height="8" fill="#9F0000"/>
<rect x="1895.5" y="128" width="41" height="8" fill="#AF0000"/>
<rect x="1895.5" y="136" width="41" height="8" fill="#BF0000"/>
<rect x="1895.5" y="144" width="41" height="8" fill="#CF0000"/>
<rect x="1895.5" y="152" width="41" height="8" fill="#DF0000"/>
<rect x="1895.5" y="160" width="41" height="9" fill="#EF0000"/>
<rect x="1895.5" y="169" width="41" height="8" fill="#FF0000"/>
<rect x="1895.5" y="177" width="41" height="8" fill="#FF1000"/>
<rect x="1895.5" y="185" width="41" height="8" fill="#FF2000"/>
<rect x="1895.5" y="193" width="41" height="8" fill="#FF3000"/>
<rect x="1895.5" y="201" width="41" height="8" fill="#FF4000"/>
<rect x="1895.5" y="209" width="41" height="9" fill="#FF5000"/>
<rect x="1895.5" y="218" width="41" height="8" fill="#FF6000"/>
<rect x="1895.5" y="226" width="41" height="8" fill="#FF7000"/>
<rect x="1895.5" y="234" width="41" height="8" fill="#FF8000"/>
<rect x="1895.5" y="242" width="41" height="8" fill="#FF8F00"/>
<rect x="1895.5" y="250" width="41" height="8" fill="#FF9F00"/>
<rect x="1895.5" y="258" width="41" height="9" fill="#FFAF00"/>
<rect x="1895.5" y="267" width="41" height="8" fill="#FFBF00"/>
<rect x="1895.5" y="275" width="41" height="8" fill="#FFCF00"/>
<rect x="1895.5" y="283" width="41" height="8" fill="#FFDF00"/>
<rect x="1895.5" y="291" width="41" height="8" fill="#FFEF00"/>
<rect x="1895.5" y="299" width="41" height="8" fill="#FFFF00"/>
<rect x="1895.5" y="307" width="41" height="9" fill="#EFFF10"/>
<rect x="1895.5" y="316" width="41" height="8" fill="#DFFF20"/>
<rect x="1895.5" y="324" width="41" height="8" fill="#CFFF30"/>
<rect x="1895.5" y="332" width="41" height="8" fill="#BFFF40"/>
<rect x="1895.5" y="340" width="41" height="8" fill="#AFFF50"/>
<rect x="1895.5" y="348" width="41" height="8" fill="#9FFF60"/>
<rect x="1895.5" y="356" width="41" height="9" fill="#8FFF70"/>
<rect x="1895.5" y="365" width="41" height="8" fill="#80FF80"/>
<rect x="1895.5" y="373" width="41" height="8" fill="#70FF8F"/>
<rect x="1895.5" y="381" width="41" height="8" fill="#60FF9F"/>
<rect x="1895.5" y="389" width="41" height="8" fill="#50FFAF"/>
<rect x="1895.5" y="397" width="41" height="8" fill="#40FFBF"/>
<rect x="1895.5" y="405" width="41" height="9" fill="#30FFCF"/>
<rect x="1895.5" y="414" width="41" height="8" fill="#20FFDF"/>
<rect x="1895.5" y="422" width="41" height="8" fill="#10FFEF"/>
<rect x="1895.5" y="430" width="41" height="8" fill="#00FFFF"/>
<rect x="1895.5" y="438" width="41" height="8" fill="#00EFFF"/>
<rect x="1895.5" y="446" width="41" height="8" fill="#00DFFF"/>
<rect x="1895.5" y="454" width="41" height="9" fill="#00CFFF"/>
<rect x="1895.5" y="463" width="41" height="8" fill="#00BFFF"/>
<rect x="1895.5" y="471" width="41" height="8" fill="#00AFFF"/>
<rect x="1895.5" y="479" width="41" height="8" fill="#009FFF"/>
<rect x="1895.5" y="487" width="41" height="8" fill="#008FFF"/>
<rect x="1895.5" y="495" width="41" height="8" fill="#0080FF"/>
<rect x="1895.5" y="503" width="41" height="9" fill="#0070FF"/>
<rect x="1895.5" y="512" width="41" height="8" fill="#0060FF"/>
<rect x="1895.5" y="520" width="41" height="8" fill="#0050FF"/>
<rect x="1895.5" y="528" width="41" height="8" fill="#0040FF"/>
<rect x="1895.5" y="536" width="41" height="8" fill="#0030FF"/>
<rect x="1895.5" y="544" width="41" height="8" fill="#0020FF"/>
<rect x="1895.5" y="552" width="41" height="9" fill="#0010FF"/>
<rect x="1895.5" y="561" width="41" height="8" fill="#0000FF"/>
<rect x="1895.5" y="569" width="41" height="8" fill="#0000EF"/>
<rect x="1895.5" y="577" width="41" height="8" fill="#0000DF"/>
<rect x="1895.5" y="585" width="41" height="8" fill="#0000CF"/>
<rect x="1895.5" y="593" width="41" height="8" fill="#0000BF"/>
<rect x="1895.5" y="601" width="41" height="9" fill="#0000AF"/>
<rect x="1895.5" y="610" width="41" height="8" fill="#00009F"/>
<rect x="1895.5" y="618" width="41" height="8" fill="#00008F"/>
</g>
<line x1="1895.5" y1="102.3" x2="1895.5" y2="626.9" stroke="#000" stroke-width="2"/>
<line x1="1936.5" y1="102.3" x2="1936.5" y2="626.9" stroke="#000" stroke-width="2"/>
<line x1="1894.5" y1="103.3" x2="1937.5" y2="103.3" stroke="#000" stroke-width="2"/>
<line x1="1894.5" y1="625.9" x2="1937.5" y2="625.9" stroke="#000" stroke-width="2"/>
<line x1="1895.5" y1="103.3" x2="1901" y2="103.3" stroke="#000" stroke-width="1.5"/>
<line x1="1936.5" y1="103.3" x2="1931" y2="103.3" stroke="#000" stroke-width="1.5"/>
<text transform="translate(1947 110.5) scale(1 1.04)" font-size="32" text-anchor="start" fill="#000" stroke="#000" stroke-width="0.5">60</text>
<line x1="1895.5" y1="190.4" x2="1901" y2="190.4" stroke="#000" stroke-width="1.5"/>
<line x1="1936.5" y1="190.4" x2="1931" y2="190.4" stroke="#000" stroke-width="1.5"/>
<text transform="translate(1947 197.6) scale(1 1.04)" font-size="32" text-anchor="start" fill="#000" stroke="#000" stroke-width="0.5">40</text>
<line x1="1895.5" y1="277.5" x2="1901" y2="277.5" stroke="#000" stroke-width="1.5"/>
<line x1="1936.5" y1="277.5" x2="1931" y2="277.5" stroke="#000" stroke-width="1.5"/>
<text transform="translate(1947 284.7) scale(1 1.04)" font-size="32" text-anchor="start" fill="#000" stroke="#000" stroke-width="0.5">20</text>
<line x1="1895.5" y1="364.6" x2="1901" y2="364.6" stroke="#000" stroke-width="1.5"/>
<line x1="1936.5" y1="364.6" x2="1931" y2="364.6" stroke="#000" stroke-width="1.5"/>
<text transform="translate(1947 371.8) scale(1 1.04)" font-size="32" text-anchor="start" fill="#000" stroke="#000" stroke-width="0.5">0</text>
<line x1="1895.5" y1="451.7" x2="1901" y2="451.7" stroke="#000" stroke-width="1.5"/>
<line x1="1936.5" y1="451.7" x2="1931" y2="451.7" stroke="#000" stroke-width="1.5"/>
<text transform="translate(1947 458.9) scale(1 1.04)" font-size="32" text-anchor="start" fill="#000" stroke="#000" stroke-width="0.5">-20</text>
<line x1="1895.5" y1="538.8" x2="1901" y2="538.8" stroke="#000" stroke-width="1.5"/>
<line x1="1936.5" y1="538.8" x2="1931" y2="538.8" stroke="#000" stroke-width="1.5"/>
<text transform="translate(1947 546) scale(1 1.04)" font-size="32" text-anchor="start" fill="#000" stroke="#000" stroke-width="0.5">-40</text>
<line x1="1895.5" y1="625.9" x2="1901" y2="625.9" stroke="#000" stroke-width="1.5"/>
<line x1="1936.5" y1="625.9" x2="1931" y2="625.9" stroke="#000" stroke-width="1.5"/>
<text transform="translate(1947 633.1) scale(1 1.04)" font-size="32" text-anchor="start" fill="#000" stroke="#000" stroke-width="0.5">-60</text>
<text x="1928" y="667" font-size="32" text-anchor="middle" fill="#000" stroke="#000" stroke-width="0.5">%</text>
<text transform="translate(-1.25 762) scale(1.1131 1)" font-size="43.31" fill="#262626" stroke="#262626" stroke-width="1.6" stroke-linejoin="round">B</text>
<text x="1079.1" y="761.4" font-size="39.8" text-anchor="middle" fill="#000" stroke="#000" stroke-width="0.5">Cluster-based permutation test with SmartERD - ERDgrams</text>
<text x="404" y="814.5" font-size="32" text-anchor="middle" fill="#000" stroke="#000" stroke-width="0.5">old</text>
<text x="1007.3" y="812.3" font-size="32" text-anchor="middle" fill="#000" stroke="#000" stroke-width="0.5">new</text>
<text x="1596.8" y="814.8" font-size="32" text-anchor="middle" fill="#000" stroke="#000" stroke-width="0.5">old vs new</text>
<g shape-rendering="crispEdges">
<rect x="152" y="826.5" width="20" height="104.34" fill="#30FFCF"/>
<rect x="172" y="826.5" width="14" height="104.34" fill="#20FFDF"/>
<rect x="186" y="826.5" width="10" height="104.34" fill="#10FFEF"/>
<rect x="196" y="826.5" width="10" height="104.34" fill="#00FFFF"/>
<rect x="206" y="826.5" width="3" height="104.34" fill="#00DFFF"/>
<rect x="209" y="826.5" width="4" height="104.34" fill="#00CFFF"/>
<rect x="213" y="826.5" width="3" height="104.34" fill="#00BFFF"/>
<rect x="216" y="826.5" width="3" height="104.34" fill="#00AFFF"/>
<rect x="219" y="826.5" width="7" height="104.34" fill="#009FFF"/>
<rect x="226" y="826.5" width="3" height="104.34" fill="#008FFF"/>
<rect x="229" y="826.5" width="4" height="104.34" fill="#0080FF"/>
<rect x="233" y="826.5" width="6" height="104.34" fill="#0070FF"/>
<rect x="239" y="826.5" width="4" height="104.34" fill="#0060FF"/>
<rect x="243" y="826.5" width="3" height="104.34" fill="#0050FF"/>
<rect x="246" y="826.5" width="7" height="104.34" fill="#0040FF"/>
<rect x="253" y="826.5" width="10" height="104.34" fill="#0030FF"/>
<rect x="263" y="826.5" width="17" height="104.34" fill="#0020FF"/>
<rect x="280" y="826.5" width="33" height="104.34" fill="#0010FF"/>
<rect x="313" y="826.5" width="17" height="104.34" fill="#0020FF"/>
<rect x="330" y="826.5" width="37" height="104.34" fill="#0030FF"/>
<rect x="367" y="826.5" width="10" height="104.34" fill="#0040FF"/>
<rect x="377" y="826.5" width="13" height="104.34" fill="#0050FF"/>
<rect x="390" y="826.5" width="81" height="104.34" fill="#0060FF"/>
<rect x="471" y="826.5" width="17" height="104.34" fill="#0070FF"/>
<rect x="488" y="826.5" width="6" height="104.34" fill="#0080FF"/>
<rect x="494" y="826.5" width="7" height="104.34" fill="#008FFF"/>
<rect x="501" y="826.5" width="3" height="104.34" fill="#009FFF"/>
<rect x="504" y="826.5" width="7" height="104.34" fill="#00AFFF"/>
<rect x="511" y="826.5" width="3" height="104.34" fill="#00BFFF"/>
<rect x="514" y="826.5" width="4" height="104.34" fill="#00CFFF"/>
<rect x="518" y="826.5" width="3" height="104.34" fill="#00DFFF"/>
<rect x="521" y="826.5" width="7" height="104.34" fill="#00EFFF"/>
<rect x="528" y="826.5" width="3" height="104.34" fill="#00FFFF"/>
<rect x="531" y="826.5" width="4" height="104.34" fill="#10FFEF"/>
<rect x="535" y="826.5" width="3" height="104.34" fill="#30FFCF"/>
<rect x="538" y="826.5" width="3" height="104.34" fill="#40FFBF"/>
<rect x="541" y="826.5" width="7" height="104.34" fill="#50FFAF"/>
<rect x="548" y="826.5" width="7" height="104.34" fill="#60FF9F"/>
<rect x="555" y="826.5" width="6" height="104.34" fill="#70FF8F"/>
<rect x="561" y="826.5" width="7" height="104.34" fill="#80FF80"/>
<rect x="568" y="826.5" width="10" height="104.34" fill="#8FFF70"/>
<rect x="578" y="826.5" width="3" height="104.34" fill="#9FFF60"/>
<rect x="581" y="826.5" width="11" height="104.34" fill="#8FFF70"/>
<rect x="592" y="826.5" width="13" height="104.34" fill="#80FF80"/>
<rect x="605" y="826.5" width="17" height="104.34" fill="#70FF8F"/>
<rect x="622" y="826.5" width="23" height="104.34" fill="#60FF9F"/>
<rect x="645" y="826.5" width="24" height="104.34" fill="#70FF8F"/>
<rect x="669" y="826.5" width="6" height="104.34" fill="#80FF80"/>
<rect x="675" y="826.5" width="7" height="104.34" fill="#8FFF70"/>
<rect x="682" y="826.5" width="7" height="104.34" fill="#9FFF60"/>
<rect x="689" y="826.5" width="6" height="104.34" fill="#AFFF50"/>
<rect x="695" y="826.5" width="11" height="104.34" fill="#BFFF40"/>
<rect x="152" y="930.84" width="7" height="104.34" fill="#00DFFF"/>
<rect x="159" y="930.84" width="13" height="104.34" fill="#00EFFF"/>
<rect x="172" y="930.84" width="10" height="104.34" fill="#00FFFF"/>
<rect x="182" y="930.84" width="7" height="104.34" fill="#00EFFF"/>
<rect x="189" y="930.84" width="7" height="104.34" fill="#00DFFF"/>
<rect x="196" y="930.84" width="7" height="104.34" fill="#00CFFF"/>
<rect x="203" y="930.84" width="3" height="104.34" fill="#00BFFF"/>
<rect x="206" y="930.84" width="3" height="104.34" fill="#009FFF"/>
<rect x="209" y="930.84" width="4" height="104.34" fill="#008FFF"/>
<rect x="213" y="930.84" width="3" height="104.34" fill="#0080FF"/>
<rect x="216" y="930.84" width="3" height="104.34" fill="#0070FF"/>
<rect x="219" y="930.84" width="4" height="104.34" fill="#0060FF"/>
<rect x="223" y="930.84" width="3" height="104.34" fill="#0050FF"/>
<rect x="226" y="930.84" width="7" height="104.34" fill="#0040FF"/>
<rect x="233" y="930.84" width="6" height="104.34" fill="#0030FF"/>
<rect x="239" y="930.84" width="7" height="104.34" fill="#0020FF"/>
<rect x="246" y="930.84" width="4" height="104.34" fill="#0010FF"/>
<rect x="250" y="930.84" width="6" height="104.34" fill="#0000FF"/>
<rect x="256" y="930.84" width="4" height="104.34" fill="#0000EF"/>
<rect x="260" y="930.84" width="3" height="104.34" fill="#0000DF"/>
<rect x="263" y="930.84" width="7" height="104.34" fill="#0000CF"/>
<rect x="270" y="930.84" width="10" height="104.34" fill="#0000BF"/>
<rect x="280" y="930.84" width="6" height="104.34" fill="#0000AF"/>
<rect x="286" y="930.84" width="4" height="104.34" fill="#00009F"/>
<rect x="290" y="930.84" width="17" height="104.34" fill="#0000AF"/>
<rect x="307" y="930.84" width="13" height="104.34" fill="#0000BF"/>
<rect x="320" y="930.84" width="17" height="104.34" fill="#0000CF"/>
<rect x="337" y="930.84" width="16" height="104.34" fill="#0000DF"/>
<rect x="353" y="930.84" width="24" height="104.34" fill="#0000EF"/>
<rect x="377" y="930.84" width="23" height="104.34" fill="#0000FF"/>
<rect x="400" y="930.84" width="21" height="104.34" fill="#0010FF"/>
<rect x="421" y="930.84" width="67" height="104.34" fill="#0020FF"/>
<rect x="488" y="930.84" width="10" height="104.34" fill="#0030FF"/>
<rect x="498" y="930.84" width="6" height="104.34" fill="#0040FF"/>
<rect x="504" y="930.84" width="4" height="104.34" fill="#0050FF"/>
<rect x="508" y="930.84" width="6" height="104.34" fill="#0060FF"/>
<rect x="514" y="930.84" width="4" height="104.34" fill="#0070FF"/>
<rect x="518" y="930.84" width="3" height="104.34" fill="#0080FF"/>
<rect x="521" y="930.84" width="3" height="104.34" fill="#008FFF"/>
<rect x="524" y="930.84" width="7" height="104.34" fill="#00AFFF"/>
<rect x="531" y="930.84" width="7" height="104.34" fill="#00BFFF"/>
<rect x="538" y="930.84" width="3" height="104.34" fill="#00CFFF"/>
<rect x="541" y="930.84" width="4" height="104.34" fill="#00DFFF"/>
<rect x="545" y="930.84" width="3" height="104.34" fill="#00EFFF"/>
<rect x="548" y="930.84" width="3" height="104.34" fill="#00FFFF"/>
<rect x="551" y="930.84" width="14" height="104.34" fill="#20FFDF"/>
<rect x="565" y="930.84" width="16" height="104.34" fill="#30FFCF"/>
<rect x="581" y="930.84" width="21" height="104.34" fill="#40FFBF"/>
<rect x="602" y="930.84" width="70" height="104.34" fill="#30FFCF"/>
<rect x="672" y="930.84" width="13" height="104.34" fill="#40FFBF"/>
<rect x="685" y="930.84" width="7" height="104.34" fill="#50FFAF"/>
<rect x="692" y="930.84" width="3" height="104.34" fill="#60FF9F"/>
<rect x="695" y="930.84" width="11" height="104.34" fill="#70FF8F"/>
<rect x="152" y="1035.18" width="7" height="104.34" fill="#00CFFF"/>
<rect x="159" y="1035.18" width="7" height="104.34" fill="#00DFFF"/>
<rect x="166" y="1035.18" width="6" height="104.34" fill="#00EFFF"/>
<rect x="172" y="1035.18" width="10" height="104.34" fill="#00FFFF"/>
<rect x="182" y="1035.18" width="21" height="104.34" fill="#00EFFF"/>
<rect x="203" y="1035.18" width="3" height="104.34" fill="#00CFFF"/>
<rect x="206" y="1035.18" width="3" height="104.34" fill="#00BFFF"/>
<rect x="209" y="1035.18" width="4" height="104.34" fill="#00AFFF"/>
<rect x="213" y="1035.18" width="3" height="104.34" fill="#009FFF"/>
<rect x="216" y="1035.18" width="3" height="104.34" fill="#008FFF"/>
<rect x="219" y="1035.18" width="4" height="104.34" fill="#0080FF"/>
<rect x="223" y="1035.18" width="3" height="104.34" fill="#0070FF"/>
<rect x="226" y="1035.18" width="3" height="104.34" fill="#0060FF"/>
<rect x="229" y="1035.18" width="4" height="104.34" fill="#0040FF"/>
<rect x="233" y="1035.18" width="3" height="104.34" fill="#0030FF"/>
<rect x="236" y="1035.18" width="3" height="104.34" fill="#0020FF"/>
<rect x="239" y="1035.18" width="4" height="104.34" fill="#0000FF"/>
<rect x="243" y="1035.18" width="7" height="104.34" fill="#0000EF"/>
<rect x="250" y="1035.18" width="3" height="104.34" fill="#0000DF"/>
<rect x="253" y="1035.18" width="3" height="104.34" fill="#0000CF"/>
<rect x="256" y="1035.18" width="10" height="104.34" fill="#0000BF"/>
<rect x="266" y="1035.18" width="7" height="104.34" fill="#0000AF"/>
<rect x="273" y="1035.18" width="10" height="104.34" fill="#00009F"/>
<rect x="283" y="1035.18" width="13" height="104.34" fill="#00008F"/>
<rect x="296" y="1035.18" width="21" height="104.34" fill="#00009F"/>
<rect x="317" y="1035.18" width="13" height="104.34" fill="#0000AF"/>
<rect x="330" y="1035.18" width="17" height="104.34" fill="#0000BF"/>
<rect x="347" y="1035.18" width="20" height="104.34" fill="#0000CF"/>
<rect x="367" y="1035.18" width="27" height="104.34" fill="#0000DF"/>
<rect x="394" y="1035.18" width="30" height="104.34" fill="#0000EF"/>
<rect x="424" y="1035.18" width="30" height="104.34" fill="#0000FF"/>
<rect x="454" y="1035.18" width="30" height="104.34" fill="#0010FF"/>
<rect x="484" y="1035.18" width="14" height="104.34" fill="#0020FF"/>
<rect x="498" y="1035.18" width="13" height="104.34" fill="#0030FF"/>
<rect x="511" y="1035.18" width="13" height="104.34" fill="#0040FF"/>
<rect x="524" y="1035.18" width="4" height="104.34" fill="#0050FF"/>
<rect x="528" y="1035.18" width="3" height="104.34" fill="#0070FF"/>
<rect x="531" y="1035.18" width="4" height="104.34" fill="#0080FF"/>
<rect x="535" y="1035.18" width="3" height="104.34" fill="#008FFF"/>
<rect x="538" y="1035.18" width="3" height="104.34" fill="#009FFF"/>
<rect x="541" y="1035.18" width="7" height="104.34" fill="#00AFFF"/>
<rect x="548" y="1035.18" width="3" height="104.34" fill="#00BFFF"/>
<rect x="551" y="1035.18" width="4" height="104.34" fill="#00CFFF"/>
<rect x="555" y="1035.18" width="3" height="104.34" fill="#00DFFF"/>
<rect x="558" y="1035.18" width="3" height="104.34" fill="#00EFFF"/>
<rect x="561" y="1035.18" width="4" height="104.34" fill="#00FFFF"/>
<rect x="565" y="1035.18" width="10" height="104.34" fill="#10FFEF"/>
<rect x="575" y="1035.18" width="27" height="104.34" fill="#20FFDF"/>
<rect x="602" y="1035.18" width="13" height="104.34" fill="#10FFEF"/>
<rect x="615" y="1035.18" width="7" height="104.34" fill="#00FFFF"/>
<rect x="622" y="1035.18" width="6" height="104.34" fill="#00EFFF"/>
<rect x="628" y="1035.18" width="7" height="104.34" fill="#00DFFF"/>
<rect x="635" y="1035.18" width="3" height="104.34" fill="#00EFFF"/>
<rect x="638" y="1035.18" width="7" height="104.34" fill="#00FFFF"/>
<rect x="645" y="1035.18" width="10" height="104.34" fill="#10FFEF"/>
<rect x="655" y="1035.18" width="10" height="104.34" fill="#20FFDF"/>
<rect x="665" y="1035.18" width="10" height="104.34" fill="#30FFCF"/>
<rect x="675" y="1035.18" width="10" height="104.34" fill="#40FFBF"/>
<rect x="685" y="1035.18" width="21" height="104.34" fill="#50FFAF"/>
<rect x="152" y="1139.52" width="44" height="104.34" fill="#00FFFF"/>
<rect x="196" y="1139.52" width="7" height="104.34" fill="#00EFFF"/>
<rect x="203" y="1139.52" width="3" height="104.34" fill="#00DFFF"/>
<rect x="206" y="1139.52" width="7" height="104.34" fill="#00CFFF"/>
<rect x="213" y="1139.52" width="3" height="104.34" fill="#00BFFF"/>
<rect x="216" y="1139.52" width="3" height="104.34" fill="#00AFFF"/>
<rect x="219" y="1139.52" width="4" height="104.34" fill="#009FFF"/>
<rect x="223" y="1139.52" width="3" height="104.34" fill="#008FFF"/>
<rect x="226" y="1139.52" width="3" height="104.34" fill="#0080FF"/>
<rect x="229" y="1139.52" width="4" height="104.34" fill="#0070FF"/>
<rect x="233" y="1139.52" width="3" height="104.34" fill="#0060FF"/>
<rect x="236" y="1139.52" width="3" height="104.34" fill="#0050FF"/>
<rect x="239" y="1139.52" width="4" height="104.34" fill="#0040FF"/>
<rect x="243" y="1139.52" width="3" height="104.34" fill="#0030FF"/>
<rect x="246" y="1139.52" width="7" height="104.34" fill="#0020FF"/>
<rect x="253" y="1139.52" width="7" height="104.34" fill="#0010FF"/>
<rect x="260" y="1139.52" width="3" height="104.34" fill="#0000FF"/>
<rect x="263" y="1139.52" width="7" height="104.34" fill="#0000EF"/>
<rect x="270" y="1139.52" width="6" height="104.34" fill="#0000DF"/>
<rect x="276" y="1139.52" width="7" height="104.34" fill="#0000CF"/>
<rect x="283" y="1139.52" width="13" height="104.34" fill="#0000BF"/>
<rect x="296" y="1139.52" width="17" height="104.34" fill="#0000CF"/>
<rect x="313" y="1139.52" width="14" height="104.34" fill="#0000DF"/>
<rect x="327" y="1139.52" width="20" height="104.34" fill="#0000EF"/>
<rect x="347" y="1139.52" width="27" height="104.34" fill="#0000FF"/>
<rect x="374" y="1139.52" width="26" height="104.34" fill="#0010FF"/>
<rect x="400" y="1139.52" width="17" height="104.34" fill="#0020FF"/>
<rect x="417" y="1139.52" width="24" height="104.34" fill="#0030FF"/>
<rect x="441" y="1139.52" width="33" height="104.34" fill="#0040FF"/>
<rect x="474" y="1139.52" width="17" height="104.34" fill="#0050FF"/>
<rect x="491" y="1139.52" width="10" height="104.34" fill="#0060FF"/>
<rect x="501" y="1139.52" width="7" height="104.34" fill="#0070FF"/>
<rect x="508" y="1139.52" width="3" height="104.34" fill="#0080FF"/>
<rect x="511" y="1139.52" width="7" height="104.34" fill="#008FFF"/>
<rect x="518" y="1139.52" width="3" height="104.34" fill="#009FFF"/>
<rect x="521" y="1139.52" width="3" height="104.34" fill="#00AFFF"/>
<rect x="524" y="1139.52" width="7" height="104.34" fill="#00BFFF"/>
<rect x="531" y="1139.52" width="4" height="104.34" fill="#00CFFF"/>
<rect x="535" y="1139.52" width="6" height="104.34" fill="#00DFFF"/>
<rect x="541" y="1139.52" width="4" height="104.34" fill="#00EFFF"/>
<rect x="545" y="1139.52" width="6" height="104.34" fill="#00FFFF"/>
<rect x="551" y="1139.52" width="10" height="104.34" fill="#10FFEF"/>
<rect x="561" y="1139.52" width="31" height="104.34" fill="#20FFDF"/>
<rect x="592" y="1139.52" width="46" height="104.34" fill="#10FFEF"/>
<rect x="638" y="1139.52" width="17" height="104.34" fill="#20FFDF"/>
<rect x="655" y="1139.52" width="17" height="104.34" fill="#30FFCF"/>
<rect x="672" y="1139.52" width="34" height="104.34" fill="#40FFBF"/>
<rect x="152" y="1243.86" width="24" height="104.34" fill="#50FFAF"/>
<rect x="176" y="1243.86" width="17" height="104.34" fill="#40FFBF"/>
<rect x="193" y="1243.86" width="16" height="104.34" fill="#30FFCF"/>
<rect x="209" y="1243.86" width="14" height="104.34" fill="#20FFDF"/>
<rect x="223" y="1243.86" width="6" height="104.34" fill="#10FFEF"/>
<rect x="229" y="1243.86" width="7" height="104.34" fill="#00FFFF"/>
<rect x="236" y="1243.86" width="3" height="104.34" fill="#00EFFF"/>
<rect x="239" y="1243.86" width="4" height="104.34" fill="#00DFFF"/>
<rect x="243" y="1243.86" width="3" height="104.34" fill="#00CFFF"/>
<rect x="246" y="1243.86" width="4" height="104.34" fill="#00BFFF"/>
<rect x="250" y="1243.86" width="3" height="104.34" fill="#00AFFF"/>
<rect x="253" y="1243.86" width="7" height="104.34" fill="#009FFF"/>
<rect x="260" y="1243.86" width="3" height="104.34" fill="#008FFF"/>
<rect x="263" y="1243.86" width="7" height="104.34" fill="#0080FF"/>
<rect x="270" y="1243.86" width="6" height="104.34" fill="#0070FF"/>
<rect x="276" y="1243.86" width="17" height="104.34" fill="#0060FF"/>
<rect x="293" y="1243.86" width="27" height="104.34" fill="#0050FF"/>
<rect x="320" y="1243.86" width="20" height="104.34" fill="#0060FF"/>
<rect x="340" y="1243.86" width="34" height="104.34" fill="#0070FF"/>
<rect x="374" y="1243.86" width="23" height="104.34" fill="#0080FF"/>
<rect x="397" y="1243.86" width="34" height="104.34" fill="#008FFF"/>
<rect x="431" y="1243.86" width="20" height="104.34" fill="#009FFF"/>
<rect x="451" y="1243.86" width="16" height="104.34" fill="#00AFFF"/>
<rect x="467" y="1243.86" width="14" height="104.34" fill="#00BFFF"/>
<rect x="481" y="1243.86" width="13" height="104.34" fill="#00CFFF"/>
<rect x="494" y="1243.86" width="10" height="104.34" fill="#00DFFF"/>
<rect x="504" y="1243.86" width="7" height="104.34" fill="#00EFFF"/>
<rect x="511" y="1243.86" width="7" height="104.34" fill="#00FFFF"/>
<rect x="518" y="1243.86" width="3" height="104.34" fill="#10FFEF"/>
<rect x="521" y="1243.86" width="3" height="104.34" fill="#20FFDF"/>
<rect x="524" y="1243.86" width="7" height="104.34" fill="#30FFCF"/>
<rect x="531" y="1243.86" width="4" height="104.34" fill="#40FFBF"/>
<rect x="535" y="1243.86" width="6" height="104.34" fill="#50FFAF"/>
<rect x="541" y="1243.86" width="4" height="104.34" fill="#60FF9F"/>
<rect x="545" y="1243.86" width="6" height="104.34" fill="#70FF8F"/>
<rect x="551" y="1243.86" width="10" height="104.34" fill="#80FF80"/>
<rect x="561" y="1243.86" width="4" height="104.34" fill="#8FFF70"/>
<rect x="565" y="1243.86" width="16" height="104.34" fill="#80FF80"/>
<rect x="581" y="1243.86" width="14" height="104.34" fill="#70FF8F"/>
<rect x="595" y="1243.86" width="10" height="104.34" fill="#60FF9F"/>
<rect x="605" y="1243.86" width="10" height="104.34" fill="#50FFAF"/>
<rect x="615" y="1243.86" width="23" height="104.34" fill="#40FFBF"/>
<rect x="638" y="1243.86" width="21" height="104.34" fill="#50FFAF"/>
<rect x="659" y="1243.86" width="6" height="104.34" fill="#60FF9F"/>
<rect x="665" y="1243.86" width="7" height="104.34" fill="#70FF8F"/>
<rect x="672" y="1243.86" width="7" height="104.34" fill="#80FF80"/>
<rect x="679" y="1243.86" width="6" height="104.34" fill="#8FFF70"/>
<rect x="685" y="1243.86" width="21" height="104.34" fill="#9FFF60"/>
</g>
<rect x="152.3" y="826.5" width="553.2" height="521.7" fill="none" stroke="#222" stroke-width="1.2"/>
<line x1="292.3" y1="1348.2" x2="292.3" y2="1339.7" stroke="#000" stroke-width="1.3"/>
<line x1="292.3" y1="826.5" x2="292.3" y2="835" stroke="#000" stroke-width="1.3"/>
<line x1="493.8" y1="1348.2" x2="493.8" y2="1339.7" stroke="#000" stroke-width="1.3"/>
<line x1="493.8" y1="826.5" x2="493.8" y2="835" stroke="#000" stroke-width="1.3"/>
<line x1="695.4" y1="1348.2" x2="695.4" y2="1339.7" stroke="#000" stroke-width="1.3"/>
<line x1="695.4" y1="826.5" x2="695.4" y2="835" stroke="#000" stroke-width="1.3"/>
<line x1="705.5" y1="878.67" x2="699.5" y2="878.67" stroke="#000" stroke-width="1.3"/>
<line x1="705.5" y1="983.01" x2="699.5" y2="983.01" stroke="#000" stroke-width="1.3"/>
<line x1="705.5" y1="1087.35" x2="699.5" y2="1087.35" stroke="#000" stroke-width="1.3"/>
<line x1="705.5" y1="1191.69" x2="699.5" y2="1191.69" stroke="#000" stroke-width="1.3"/>
<line x1="705.5" y1="1296.03" x2="699.5" y2="1296.03" stroke="#000" stroke-width="1.3"/>
<text x="291.9" y="1384.1" font-size="32" text-anchor="middle" fill="#000" stroke="#000" stroke-width="0.5">Peak</text>
<text x="290.7" y="1419.9" font-size="32" text-anchor="middle" fill="#000" stroke="#000" stroke-width="0.5">latency</text>
<text x="496" y="1384.1" font-size="32" text-anchor="middle" fill="#000" stroke="#000" stroke-width="0.5">+1s</text>
<text x="697.2" y="1384.1" font-size="32" text-anchor="middle" fill="#000" stroke="#000" stroke-width="0.5">+2s</text>
<g shape-rendering="crispEdges">
<rect x="729" y="827.8" width="20" height="103.2" fill="#50FFAF"/>
<rect x="749" y="827.8" width="10" height="103.2" fill="#40FFBF"/>
<rect x="759" y="827.8" width="7" height="103.2" fill="#30FFCF"/>
<rect x="766" y="827.8" width="10" height="103.2" fill="#20FFDF"/>
<rect x="776" y="827.8" width="7" height="103.2" fill="#10FFEF"/>
<rect x="783" y="827.8" width="6" height="103.2" fill="#00FFFF"/>
<rect x="789" y="827.8" width="4" height="103.2" fill="#00EFFF"/>
<rect x="793" y="827.8" width="6" height="103.2" fill="#00DFFF"/>
<rect x="799" y="827.8" width="7" height="103.2" fill="#00CFFF"/>
<rect x="806" y="827.8" width="3" height="103.2" fill="#00BFFF"/>
<rect x="809" y="827.8" width="7" height="103.2" fill="#00AFFF"/>
<rect x="816" y="827.8" width="3" height="103.2" fill="#009FFF"/>
<rect x="819" y="827.8" width="7" height="103.2" fill="#008FFF"/>
<rect x="826" y="827.8" width="7" height="103.2" fill="#0080FF"/>
<rect x="833" y="827.8" width="6" height="103.2" fill="#0070FF"/>
<rect x="839" y="827.8" width="24" height="103.2" fill="#0060FF"/>
<rect x="863" y="827.8" width="17" height="103.2" fill="#0050FF"/>
<rect x="880" y="827.8" width="6" height="103.2" fill="#0060FF"/>
<rect x="886" y="827.8" width="7" height="103.2" fill="#0070FF"/>
<rect x="893" y="827.8" width="7" height="103.2" fill="#0080FF"/>
<rect x="900" y="827.8" width="3" height="103.2" fill="#008FFF"/>
<rect x="903" y="827.8" width="3" height="103.2" fill="#009FFF"/>
<rect x="906" y="827.8" width="7" height="103.2" fill="#00AFFF"/>
<rect x="913" y="827.8" width="10" height="103.2" fill="#00BFFF"/>
<rect x="923" y="827.8" width="30" height="103.2" fill="#00CFFF"/>
<rect x="953" y="827.8" width="37" height="103.2" fill="#00DFFF"/>
<rect x="990" y="827.8" width="34" height="103.2" fill="#00EFFF"/>
<rect x="1024" y="827.8" width="20" height="103.2" fill="#00FFFF"/>
<rect x="1044" y="827.8" width="6" height="103.2" fill="#10FFEF"/>
<rect x="1050" y="827.8" width="7" height="103.2" fill="#20FFDF"/>
<rect x="1057" y="827.8" width="7" height="103.2" fill="#30FFCF"/>
<rect x="1064" y="827.8" width="10" height="103.2" fill="#40FFBF"/>
<rect x="1074" y="827.8" width="7" height="103.2" fill="#50FFAF"/>
<rect x="1081" y="827.8" width="10" height="103.2" fill="#60FF9F"/>
<rect x="1091" y="827.8" width="6" height="103.2" fill="#70FF8F"/>
<rect x="1097" y="827.8" width="10" height="103.2" fill="#80FF80"/>
<rect x="1107" y="827.8" width="10" height="103.2" fill="#8FFF70"/>
<rect x="1117" y="827.8" width="10" height="103.2" fill="#9FFF60"/>
<rect x="1127" y="827.8" width="14" height="103.2" fill="#AFFF50"/>
<rect x="1141" y="827.8" width="53" height="103.2" fill="#BFFF40"/>
<rect x="1194" y="827.8" width="10" height="103.2" fill="#CFFF30"/>
<rect x="1204" y="827.8" width="4" height="103.2" fill="#DFFF20"/>
<rect x="1208" y="827.8" width="6" height="103.2" fill="#EFFF10"/>
<rect x="1214" y="827.8" width="7" height="103.2" fill="#FFFF00"/>
<rect x="1221" y="827.8" width="3" height="103.2" fill="#FFEF00"/>
<rect x="1224" y="827.8" width="11" height="103.2" fill="#FFDF00"/>
<rect x="1235" y="827.8" width="6" height="103.2" fill="#FFEF00"/>
<rect x="1241" y="827.8" width="10" height="103.2" fill="#FFFF00"/>
<rect x="1251" y="827.8" width="7" height="103.2" fill="#EFFF10"/>
<rect x="1258" y="827.8" width="3" height="103.2" fill="#DFFF20"/>
<rect x="1261" y="827.8" width="7" height="103.2" fill="#EFFF10"/>
<rect x="1268" y="827.8" width="3" height="103.2" fill="#FFFF00"/>
<rect x="1271" y="827.8" width="4" height="103.2" fill="#FFEF00"/>
<rect x="1275" y="827.8" width="6" height="103.2" fill="#FFCF00"/>
<rect x="729" y="931" width="13" height="104.2" fill="#50FFAF"/>
<rect x="742" y="931" width="14" height="104.2" fill="#40FFBF"/>
<rect x="756" y="931" width="6" height="104.2" fill="#30FFCF"/>
<rect x="762" y="931" width="4" height="104.2" fill="#20FFDF"/>
<rect x="766" y="931" width="7" height="104.2" fill="#10FFEF"/>
<rect x="773" y="931" width="3" height="104.2" fill="#00FFFF"/>
<rect x="776" y="931" width="7" height="104.2" fill="#00EFFF"/>
<rect x="783" y="931" width="3" height="104.2" fill="#00DFFF"/>
<rect x="786" y="931" width="3" height="104.2" fill="#00CFFF"/>
<rect x="789" y="931" width="7" height="104.2" fill="#00BFFF"/>
<rect x="796" y="931" width="3" height="104.2" fill="#00AFFF"/>
<rect x="799" y="931" width="7" height="104.2" fill="#009FFF"/>
<rect x="806" y="931" width="7" height="104.2" fill="#008FFF"/>
<rect x="813" y="931" width="3" height="104.2" fill="#0080FF"/>
<rect x="816" y="931" width="7" height="104.2" fill="#0070FF"/>
<rect x="823" y="931" width="3" height="104.2" fill="#0060FF"/>
<rect x="826" y="931" width="7" height="104.2" fill="#0050FF"/>
<rect x="833" y="931" width="6" height="104.2" fill="#0040FF"/>
<rect x="839" y="931" width="7" height="104.2" fill="#0030FF"/>
<rect x="846" y="931" width="7" height="104.2" fill="#0020FF"/>
<rect x="853" y="931" width="13" height="104.2" fill="#0010FF"/>
<rect x="866" y="931" width="14" height="104.2" fill="#0000FF"/>
<rect x="880" y="931" width="6" height="104.2" fill="#0010FF"/>
<rect x="886" y="931" width="7" height="104.2" fill="#0020FF"/>
<rect x="893" y="931" width="7" height="104.2" fill="#0030FF"/>
<rect x="900" y="931" width="6" height="104.2" fill="#0040FF"/>
<rect x="906" y="931" width="7" height="104.2" fill="#0050FF"/>
<rect x="913" y="931" width="3" height="104.2" fill="#0060FF"/>
<rect x="916" y="931" width="7" height="104.2" fill="#0070FF"/>
<rect x="923" y="931" width="4" height="104.2" fill="#0080FF"/>
<rect x="927" y="931" width="10" height="104.2" fill="#008FFF"/>
<rect x="937" y="931" width="10" height="104.2" fill="#009FFF"/>
<rect x="947" y="931" width="23" height="104.2" fill="#00AFFF"/>
<rect x="970" y="931" width="23" height="104.2" fill="#00BFFF"/>
<rect x="993" y="931" width="51" height="104.2" fill="#00AFFF"/>
<rect x="1044" y="931" width="6" height="104.2" fill="#00BFFF"/>
<rect x="1050" y="931" width="7" height="104.2" fill="#00CFFF"/>
<rect x="1057" y="931" width="7" height="104.2" fill="#00DFFF"/>
<rect x="1064" y="931" width="10" height="104.2" fill="#00EFFF"/>
<rect x="1074" y="931" width="7" height="104.2" fill="#00FFFF"/>
<rect x="1081" y="931" width="6" height="104.2" fill="#10FFEF"/>
<rect x="1087" y="931" width="7" height="104.2" fill="#20FFDF"/>
<rect x="1094" y="931" width="10" height="104.2" fill="#30FFCF"/>
<rect x="1104" y="931" width="10" height="104.2" fill="#40FFBF"/>
<rect x="1114" y="931" width="10" height="104.2" fill="#50FFAF"/>
<rect x="1124" y="931" width="17" height="104.2" fill="#60FF9F"/>
<rect x="1141" y="931" width="17" height="104.2" fill="#70FF8F"/>
<rect x="1158" y="931" width="16" height="104.2" fill="#80FF80"/>
<rect x="1174" y="931" width="14" height="104.2" fill="#8FFF70"/>
<rect x="1188" y="931" width="6" height="104.2" fill="#9FFF60"/>
<rect x="1194" y="931" width="7" height="104.2" fill="#AFFF50"/>
<rect x="1201" y="931" width="3" height="104.2" fill="#BFFF40"/>
<rect x="1204" y="931" width="7" height="104.2" fill="#CFFF30"/>
<rect x="1211" y="931" width="3" height="104.2" fill="#DFFF20"/>
<rect x="1214" y="931" width="7" height="104.2" fill="#EFFF10"/>
<rect x="1221" y="931" width="10" height="104.2" fill="#FFFF00"/>
<rect x="1231" y="931" width="17" height="104.2" fill="#EFFF10"/>
<rect x="1248" y="931" width="13" height="104.2" fill="#DFFF20"/>
<rect x="1261" y="931" width="20" height="104.2" fill="#CFFF30"/>
<rect x="729" y="1035.2" width="20" height="105.2" fill="#50FFAF"/>
<rect x="749" y="1035.2" width="7" height="105.2" fill="#40FFBF"/>
<rect x="756" y="1035.2" width="6" height="105.2" fill="#30FFCF"/>
<rect x="762" y="1035.2" width="7" height="105.2" fill="#20FFDF"/>
<rect x="769" y="1035.2" width="4" height="105.2" fill="#10FFEF"/>
<rect x="773" y="1035.2" width="6" height="105.2" fill="#00FFFF"/>
<rect x="779" y="1035.2" width="4" height="105.2" fill="#00EFFF"/>
<rect x="783" y="1035.2" width="3" height="105.2" fill="#00DFFF"/>
<rect x="786" y="1035.2" width="3" height="105.2" fill="#00CFFF"/>
<rect x="789" y="1035.2" width="4" height="105.2" fill="#00BFFF"/>
<rect x="793" y="1035.2" width="3" height="105.2" fill="#00AFFF"/>
<rect x="796" y="1035.2" width="3" height="105.2" fill="#009FFF"/>
<rect x="799" y="1035.2" width="4" height="105.2" fill="#008FFF"/>
<rect x="803" y="1035.2" width="6" height="105.2" fill="#0080FF"/>
<rect x="809" y="1035.2" width="4" height="105.2" fill="#0070FF"/>
<rect x="813" y="1035.2" width="6" height="105.2" fill="#0060FF"/>
<rect x="819" y="1035.2" width="7" height="105.2" fill="#0050FF"/>
<rect x="826" y="1035.2" width="7" height="105.2" fill="#0040FF"/>
<rect x="833" y="1035.2" width="3" height="105.2" fill="#0030FF"/>
<rect x="836" y="1035.2" width="7" height="105.2" fill="#0020FF"/>
<rect x="843" y="1035.2" width="3" height="105.2" fill="#0000FF"/>
<rect x="846" y="1035.2" width="4" height="105.2" fill="#0000EF"/>
<rect x="850" y="1035.2" width="3" height="105.2" fill="#0000DF"/>
<rect x="853" y="1035.2" width="3" height="105.2" fill="#0000CF"/>
<rect x="856" y="1035.2" width="7" height="105.2" fill="#0000BF"/>
<rect x="863" y="1035.2" width="7" height="105.2" fill="#0000AF"/>
<rect x="870" y="1035.2" width="6" height="105.2" fill="#0000BF"/>
<rect x="876" y="1035.2" width="7" height="105.2" fill="#0000CF"/>
<rect x="883" y="1035.2" width="7" height="105.2" fill="#0000DF"/>
<rect x="890" y="1035.2" width="6" height="105.2" fill="#0000EF"/>
<rect x="896" y="1035.2" width="4" height="105.2" fill="#0000FF"/>
<rect x="900" y="1035.2" width="6" height="105.2" fill="#0010FF"/>
<rect x="906" y="1035.2" width="7" height="105.2" fill="#0020FF"/>
<rect x="913" y="1035.2" width="7" height="105.2" fill="#0030FF"/>
<rect x="920" y="1035.2" width="10" height="105.2" fill="#0040FF"/>
<rect x="930" y="1035.2" width="10" height="105.2" fill="#0050FF"/>
<rect x="940" y="1035.2" width="7" height="105.2" fill="#0060FF"/>
<rect x="947" y="1035.2" width="6" height="105.2" fill="#0070FF"/>
<rect x="953" y="1035.2" width="14" height="105.2" fill="#0080FF"/>
<rect x="967" y="1035.2" width="16" height="105.2" fill="#008FFF"/>
<rect x="983" y="1035.2" width="7" height="105.2" fill="#009FFF"/>
<rect x="990" y="1035.2" width="37" height="105.2" fill="#008FFF"/>
<rect x="1027" y="1035.2" width="13" height="105.2" fill="#009FFF"/>
<rect x="1040" y="1035.2" width="17" height="105.2" fill="#00AFFF"/>
<rect x="1057" y="1035.2" width="13" height="105.2" fill="#00BFFF"/>
<rect x="1070" y="1035.2" width="17" height="105.2" fill="#00CFFF"/>
<rect x="1087" y="1035.2" width="10" height="105.2" fill="#00DFFF"/>
<rect x="1097" y="1035.2" width="7" height="105.2" fill="#00EFFF"/>
<rect x="1104" y="1035.2" width="10" height="105.2" fill="#00FFFF"/>
<rect x="1114" y="1035.2" width="10" height="105.2" fill="#10FFEF"/>
<rect x="1124" y="1035.2" width="13" height="105.2" fill="#20FFDF"/>
<rect x="1137" y="1035.2" width="17" height="105.2" fill="#30FFCF"/>
<rect x="1154" y="1035.2" width="17" height="105.2" fill="#40FFBF"/>
<rect x="1171" y="1035.2" width="13" height="105.2" fill="#50FFAF"/>
<rect x="1184" y="1035.2" width="7" height="105.2" fill="#60FF9F"/>
<rect x="1191" y="1035.2" width="3" height="105.2" fill="#70FF8F"/>
<rect x="1194" y="1035.2" width="4" height="105.2" fill="#80FF80"/>
<rect x="1198" y="1035.2" width="3" height="105.2" fill="#8FFF70"/>
<rect x="1201" y="1035.2" width="7" height="105.2" fill="#9FFF60"/>
<rect x="1208" y="1035.2" width="6" height="105.2" fill="#AFFF50"/>
<rect x="1214" y="1035.2" width="7" height="105.2" fill="#BFFF40"/>
<rect x="1221" y="1035.2" width="20" height="105.2" fill="#CFFF30"/>
<rect x="1241" y="1035.2" width="20" height="105.2" fill="#BFFF40"/>
<rect x="1261" y="1035.2" width="20" height="105.2" fill="#AFFF50"/>
<rect x="729" y="1140.4" width="23" height="105" fill="#50FFAF"/>
<rect x="752" y="1140.4" width="14" height="105" fill="#40FFBF"/>
<rect x="766" y="1140.4" width="10" height="105" fill="#30FFCF"/>
<rect x="776" y="1140.4" width="10" height="105" fill="#20FFDF"/>
<rect x="786" y="1140.4" width="7" height="105" fill="#10FFEF"/>
<rect x="793" y="1140.4" width="6" height="105" fill="#00FFFF"/>
<rect x="799" y="1140.4" width="4" height="105" fill="#00EFFF"/>
<rect x="803" y="1140.4" width="3" height="105" fill="#00DFFF"/>
<rect x="806" y="1140.4" width="7" height="105" fill="#00CFFF"/>
<rect x="813" y="1140.4" width="3" height="105" fill="#00BFFF"/>
<rect x="816" y="1140.4" width="3" height="105" fill="#00AFFF"/>
<rect x="819" y="1140.4" width="4" height="105" fill="#009FFF"/>
<rect x="823" y="1140.4" width="6" height="105" fill="#008FFF"/>
<rect x="829" y="1140.4" width="4" height="105" fill="#0080FF"/>
<rect x="833" y="1140.4" width="3" height="105" fill="#0070FF"/>
<rect x="836" y="1140.4" width="7" height="105" fill="#0060FF"/>
<rect x="843" y="1140.4" width="7" height="105" fill="#0050FF"/>
<rect x="850" y="1140.4" width="3" height="105" fill="#0040FF"/>
<rect x="853" y="1140.4" width="7" height="105" fill="#0030FF"/>
<rect x="860" y="1140.4" width="6" height="105" fill="#0020FF"/>
<rect x="866" y="1140.4" width="7" height="105" fill="#0010FF"/>
<rect x="873" y="1140.4" width="10" height="105" fill="#0000FF"/>
<rect x="883" y="1140.4" width="13" height="105" fill="#0010FF"/>
<rect x="896" y="1140.4" width="4" height="105" fill="#0020FF"/>
<rect x="900" y="1140.4" width="6" height="105" fill="#0030FF"/>
<rect x="906" y="1140.4" width="7" height="105" fill="#0040FF"/>
<rect x="913" y="1140.4" width="3" height="105" fill="#0050FF"/>
<rect x="916" y="1140.4" width="4" height="105" fill="#0060FF"/>
<rect x="920" y="1140.4" width="7" height="105" fill="#0070FF"/>
<rect x="927" y="1140.4" width="6" height="105" fill="#0080FF"/>
<rect x="933" y="1140.4" width="10" height="105" fill="#008FFF"/>
<rect x="943" y="1140.4" width="10" height="105" fill="#009FFF"/>
<rect x="953" y="1140.4" width="14" height="105" fill="#00AFFF"/>
<rect x="967" y="1140.4" width="13" height="105" fill="#00BFFF"/>
<rect x="980" y="1140.4" width="17" height="105" fill="#00CFFF"/>
<rect x="997" y="1140.4" width="3" height="105" fill="#00DFFF"/>
<rect x="1000" y="1140.4" width="37" height="105" fill="#00CFFF"/>
<rect x="1037" y="1140.4" width="13" height="105" fill="#00BFFF"/>
<rect x="1050" y="1140.4" width="20" height="105" fill="#00CFFF"/>
<rect x="1070" y="1140.4" width="17" height="105" fill="#00DFFF"/>
<rect x="1087" y="1140.4" width="10" height="105" fill="#00EFFF"/>
<rect x="1097" y="1140.4" width="10" height="105" fill="#00FFFF"/>
<rect x="1107" y="1140.4" width="7" height="105" fill="#10FFEF"/>
<rect x="1114" y="1140.4" width="7" height="105" fill="#20FFDF"/>
<rect x="1121" y="1140.4" width="13" height="105" fill="#30FFCF"/>
<rect x="1134" y="1140.4" width="27" height="105" fill="#40FFBF"/>
<rect x="1161" y="1140.4" width="27" height="105" fill="#50FFAF"/>
<rect x="1188" y="1140.4" width="26" height="105" fill="#60FF9F"/>
<rect x="1214" y="1140.4" width="27" height="105" fill="#70FF8F"/>
<rect x="1241" y="1140.4" width="27" height="105" fill="#80FF80"/>
<rect x="1268" y="1140.4" width="13" height="105" fill="#8FFF70"/>
<rect x="729" y="1245.4" width="10" height="104.4" fill="#70FF8F"/>
<rect x="739" y="1245.4" width="44" height="104.4" fill="#80FF80"/>
<rect x="783" y="1245.4" width="10" height="104.4" fill="#70FF8F"/>
<rect x="793" y="1245.4" width="6" height="104.4" fill="#60FF9F"/>
<rect x="799" y="1245.4" width="4" height="104.4" fill="#50FFAF"/>
<rect x="803" y="1245.4" width="3" height="104.4" fill="#40FFBF"/>
<rect x="806" y="1245.4" width="7" height="104.4" fill="#30FFCF"/>
<rect x="813" y="1245.4" width="3" height="104.4" fill="#20FFDF"/>
<rect x="816" y="1245.4" width="3" height="104.4" fill="#10FFEF"/>
<rect x="819" y="1245.4" width="4" height="104.4" fill="#00FFFF"/>
<rect x="823" y="1245.4" width="3" height="104.4" fill="#00EFFF"/>
<rect x="826" y="1245.4" width="3" height="104.4" fill="#00DFFF"/>
<rect x="829" y="1245.4" width="7" height="104.4" fill="#00CFFF"/>
<rect x="836" y="1245.4" width="7" height="104.4" fill="#00BFFF"/>
<rect x="843" y="1245.4" width="3" height="104.4" fill="#00AFFF"/>
<rect x="846" y="1245.4" width="7" height="104.4" fill="#009FFF"/>
<rect x="853" y="1245.4" width="3" height="104.4" fill="#008FFF"/>
<rect x="856" y="1245.4" width="7" height="104.4" fill="#0080FF"/>
<rect x="863" y="1245.4" width="10" height="104.4" fill="#0070FF"/>
<rect x="873" y="1245.4" width="3" height="104.4" fill="#0060FF"/>
<rect x="876" y="1245.4" width="17" height="104.4" fill="#0070FF"/>
<rect x="893" y="1245.4" width="7" height="104.4" fill="#0080FF"/>
<rect x="900" y="1245.4" width="10" height="104.4" fill="#008FFF"/>
<rect x="910" y="1245.4" width="6" height="104.4" fill="#009FFF"/>
<rect x="916" y="1245.4" width="11" height="104.4" fill="#00AFFF"/>
<rect x="927" y="1245.4" width="13" height="104.4" fill="#00BFFF"/>
<rect x="940" y="1245.4" width="10" height="104.4" fill="#00CFFF"/>
<rect x="950" y="1245.4" width="10" height="104.4" fill="#00DFFF"/>
<rect x="960" y="1245.4" width="13" height="104.4" fill="#00EFFF"/>
<rect x="973" y="1245.4" width="14" height="104.4" fill="#00FFFF"/>
<rect x="987" y="1245.4" width="17" height="104.4" fill="#10FFEF"/>
<rect x="1004" y="1245.4" width="6" height="104.4" fill="#20FFDF"/>
<rect x="1010" y="1245.4" width="44" height="104.4" fill="#10FFEF"/>
<rect x="1054" y="1245.4" width="23" height="104.4" fill="#20FFDF"/>
<rect x="1077" y="1245.4" width="10" height="104.4" fill="#30FFCF"/>
<rect x="1087" y="1245.4" width="10" height="104.4" fill="#40FFBF"/>
<rect x="1097" y="1245.4" width="14" height="104.4" fill="#50FFAF"/>
<rect x="1111" y="1245.4" width="13" height="104.4" fill="#60FF9F"/>
<rect x="1124" y="1245.4" width="47" height="104.4" fill="#70FF8F"/>
<rect x="1171" y="1245.4" width="64" height="104.4" fill="#80FF80"/>
<rect x="1235" y="1245.4" width="13" height="104.4" fill="#8FFF70"/>
<rect x="1248" y="1245.4" width="10" height="104.4" fill="#9FFF60"/>
<rect x="1258" y="1245.4" width="10" height="104.4" fill="#AFFF50"/>
<rect x="1268" y="1245.4" width="3" height="104.4" fill="#BFFF40"/>
<rect x="1271" y="1245.4" width="4" height="104.4" fill="#CFFF30"/>
<rect x="1275" y="1245.4" width="6" height="104.4" fill="#DFFF20"/>
</g>
<rect x="729" y="827.8" width="552.4" height="522" fill="none" stroke="#222" stroke-width="1.2"/>
<line x1="867.6" y1="1349.8" x2="867.6" y2="1341.3" stroke="#000" stroke-width="1.3"/>
<line x1="867.6" y1="827.8" x2="867.6" y2="836.3" stroke="#000" stroke-width="1.3"/>
<line x1="1069.1" y1="1349.8" x2="1069.1" y2="1341.3" stroke="#000" stroke-width="1.3"/>
<line x1="1069.1" y1="827.8" x2="1069.1" y2="836.3" stroke="#000" stroke-width="1.3"/>
<line x1="1271.4" y1="1349.8" x2="1271.4" y2="1341.3" stroke="#000" stroke-width="1.3"/>
<line x1="1271.4" y1="827.8" x2="1271.4" y2="836.3" stroke="#000" stroke-width="1.3"/>
<line x1="729" y1="879.4" x2="735" y2="879.4" stroke="#000" stroke-width="1.3"/>
<line x1="1281.4" y1="879.4" x2="1275.4" y2="879.4" stroke="#000" stroke-width="1.3"/>
<line x1="729" y1="983.1" x2="735" y2="983.1" stroke="#000" stroke-width="1.3"/>
<line x1="1281.4" y1="983.1" x2="1275.4" y2="983.1" stroke="#000" stroke-width="1.3"/>
<line x1="729" y1="1087.8" x2="735" y2="1087.8" stroke="#000" stroke-width="1.3"/>
<line x1="1281.4" y1="1087.8" x2="1275.4" y2="1087.8" stroke="#000" stroke-width="1.3"/>
<line x1="729" y1="1192.9" x2="735" y2="1192.9" stroke="#000" stroke-width="1.3"/>
<line x1="1281.4" y1="1192.9" x2="1275.4" y2="1192.9" stroke="#000" stroke-width="1.3"/>
<line x1="729" y1="1297.6" x2="735" y2="1297.6" stroke="#000" stroke-width="1.3"/>
<line x1="1281.4" y1="1297.6" x2="1275.4" y2="1297.6" stroke="#000" stroke-width="1.3"/>
<text x="868.8" y="1383.1" font-size="32" text-anchor="middle" fill="#000" stroke="#000" stroke-width="0.5">Peak</text>
<text x="868.4" y="1418.9" font-size="32" text-anchor="middle" fill="#000" stroke="#000" stroke-width="0.5">latency</text>
<text x="1072.3" y="1383.1" font-size="32" text-anchor="middle" fill="#000" stroke="#000" stroke-width="0.5">+1s</text>
<text x="1273.2" y="1383.1" font-size="32" text-anchor="middle" fill="#000" stroke="#000" stroke-width="0.5">+2s</text>
<g shape-rendering="crispEdges">
<rect x="1306.6" y="828.7" width="552.2" height="522.1" fill="#8FFF70"/>
<rect x="1422.53" y="828.7" width="8.89" height="104.42" fill="#30FFCF"/>
<rect x="1461.17" y="828.7" width="14.3" height="104.42" fill="#10FFEF"/>
<rect x="1475.47" y="828.7" width="27.05" height="104.42" fill="#00FFFF"/>
<rect x="1502.52" y="828.7" width="15.46" height="104.42" fill="#00DFFF"/>
<rect x="1517.97" y="828.7" width="19.32" height="104.42" fill="#00BFFF"/>
<rect x="1537.3" y="828.7" width="19.32" height="104.42" fill="#00EFFF"/>
<rect x="1570.91" y="828.7" width="12.75" height="104.42" fill="#20FFDF"/>
<rect x="1583.67" y="828.7" width="42.51" height="104.42" fill="#00FFFF"/>
<rect x="1626.17" y="828.7" width="54.1" height="104.42" fill="#10FFEF"/>
<rect x="1680.27" y="828.7" width="15.46" height="104.42" fill="#30FFCF"/>
<rect x="1783.83" y="828.7" width="8.5" height="104.42" fill="#00EFFF"/>
<rect x="1792.34" y="828.7" width="23.19" height="104.42" fill="#00CFFF"/>
<rect x="1815.52" y="828.7" width="9.27" height="104.42" fill="#00EFFF"/>
<rect x="1306.6" y="933.12" width="1.55" height="104.42" fill="#00FFFF"/>
<rect x="1403.59" y="933.12" width="21.64" height="104.42" fill="#30FFCF"/>
<rect x="1425.23" y="933.12" width="34.78" height="104.42" fill="#40FFBF"/>
<rect x="1460.01" y="933.12" width="23.19" height="104.42" fill="#20FFDF"/>
<rect x="1483.2" y="933.12" width="27.05" height="104.42" fill="#00FFFF"/>
<rect x="1510.25" y="933.12" width="7.73" height="104.42" fill="#00CFFF"/>
<rect x="1517.97" y="933.12" width="15.46" height="104.42" fill="#00BFFF"/>
<rect x="1533.43" y="933.12" width="11.59" height="104.42" fill="#00DFFF"/>
<rect x="1545.02" y="933.12" width="54.1" height="104.42" fill="#00FFFF"/>
<rect x="1599.12" y="933.12" width="15.46" height="104.42" fill="#00DFFF"/>
<rect x="1614.58" y="933.12" width="13.52" height="104.42" fill="#00CFFF"/>
<rect x="1628.1" y="933.12" width="36.71" height="104.42" fill="#00EFFF"/>
<rect x="1664.82" y="933.12" width="19.32" height="104.42" fill="#00FFFF"/>
<rect x="1780.74" y="933.12" width="11.59" height="104.42" fill="#00BFFF"/>
<rect x="1792.34" y="933.12" width="15.46" height="104.42" fill="#00AFFF"/>
<rect x="1807.79" y="933.12" width="11.59" height="104.42" fill="#00BFFF"/>
<rect x="1819.38" y="933.12" width="9.66" height="104.42" fill="#00DFFF"/>
<rect x="1306.6" y="1037.54" width="1.55" height="104.42" fill="#00FFFF"/>
<rect x="1398.18" y="1037.54" width="27.05" height="104.42" fill="#30FFCF"/>
<rect x="1425.23" y="1037.54" width="34.78" height="104.42" fill="#40FFBF"/>
<rect x="1460.01" y="1037.54" width="30.91" height="104.42" fill="#30FFCF"/>
<rect x="1490.92" y="1037.54" width="19.32" height="104.42" fill="#00FFFF"/>
<rect x="1510.25" y="1037.54" width="15.46" height="104.42" fill="#00CFFF"/>
<rect x="1525.7" y="1037.54" width="27.05" height="104.42" fill="#00BFFF"/>
<rect x="1552.75" y="1037.54" width="15.46" height="104.42" fill="#00CFFF"/>
<rect x="1568.21" y="1037.54" width="19.32" height="104.42" fill="#00BFFF"/>
<rect x="1587.53" y="1037.54" width="27.05" height="104.42" fill="#00DFFF"/>
<rect x="1614.58" y="1037.54" width="23.19" height="104.42" fill="#00BFFF"/>
<rect x="1637.77" y="1037.54" width="15.46" height="104.42" fill="#00DFFF"/>
<rect x="1653.22" y="1037.54" width="13.52" height="104.42" fill="#00EFFF"/>
<rect x="1774.95" y="1037.54" width="13.52" height="104.42" fill="#00BFFF"/>
<rect x="1788.47" y="1037.54" width="11.59" height="104.42" fill="#00AFFF"/>
<rect x="1800.06" y="1037.54" width="15.46" height="104.42" fill="#00BFFF"/>
<rect x="1815.52" y="1037.54" width="10.43" height="104.42" fill="#00DFFF"/>
<rect x="1306.6" y="1141.96" width="18.93" height="104.42" fill="#10FFEF"/>
<rect x="1400.11" y="1141.96" width="28.98" height="104.42" fill="#30FFCF"/>
<rect x="1429.1" y="1141.96" width="34.78" height="104.42" fill="#40FFBF"/>
<rect x="1463.87" y="1141.96" width="34.78" height="104.42" fill="#30FFCF"/>
<rect x="1498.65" y="1141.96" width="19.32" height="104.42" fill="#10FFEF"/>
<rect x="1517.97" y="1141.96" width="15.46" height="104.42" fill="#00EFFF"/>
<rect x="1533.43" y="1141.96" width="19.32" height="104.42" fill="#00DFFF"/>
<rect x="1552.75" y="1141.96" width="34.78" height="104.42" fill="#00BFFF"/>
<rect x="1587.53" y="1141.96" width="19.32" height="104.42" fill="#00DFFF"/>
<rect x="1606.85" y="1141.96" width="38.64" height="104.42" fill="#00EFFF"/>
<rect x="1778.81" y="1141.96" width="9.66" height="104.42" fill="#00EFFF"/>
<rect x="1788.47" y="1141.96" width="11.59" height="104.42" fill="#00FFFF"/>
<rect x="1540" y="1246.38" width="24.34" height="104.42" fill="#00FFFF"/>
<rect x="1564.34" y="1246.38" width="19.32" height="104.42" fill="#00DFFF"/>
<rect x="1583.67" y="1246.38" width="11.59" height="104.42" fill="#00FFFF"/>
<rect x="1595.26" y="1246.38" width="8.89" height="104.42" fill="#10FFEF"/>
</g>
<rect x="1306.6" y="828.7" width="552.2" height="522.1" fill="none" stroke="#222" stroke-width="1.2"/>
<line x1="1445.3" y1="1350.8" x2="1445.3" y2="1342.3" stroke="#000" stroke-width="1.3"/>
<line x1="1445.3" y1="828.7" x2="1445.3" y2="837.2" stroke="#000" stroke-width="1.3"/>
<line x1="1647.5" y1="1350.8" x2="1647.5" y2="1342.3" stroke="#000" stroke-width="1.3"/>
<line x1="1647.5" y1="828.7" x2="1647.5" y2="837.2" stroke="#000" stroke-width="1.3"/>
<line x1="1849.6" y1="1350.8" x2="1849.6" y2="1342.3" stroke="#000" stroke-width="1.3"/>
<line x1="1849.6" y1="828.7" x2="1849.6" y2="837.2" stroke="#000" stroke-width="1.3"/>
<line x1="1306.6" y1="880.91" x2="1312.6" y2="880.91" stroke="#000" stroke-width="1.3"/>
<line x1="1858.8" y1="880.91" x2="1852.8" y2="880.91" stroke="#000" stroke-width="1.3"/>
<line x1="1306.6" y1="985.33" x2="1312.6" y2="985.33" stroke="#000" stroke-width="1.3"/>
<line x1="1858.8" y1="985.33" x2="1852.8" y2="985.33" stroke="#000" stroke-width="1.3"/>
<line x1="1306.6" y1="1089.75" x2="1312.6" y2="1089.75" stroke="#000" stroke-width="1.3"/>
<line x1="1858.8" y1="1089.75" x2="1852.8" y2="1089.75" stroke="#000" stroke-width="1.3"/>
<line x1="1306.6" y1="1194.17" x2="1312.6" y2="1194.17" stroke="#000" stroke-width="1.3"/>
<line x1="1858.8" y1="1194.17" x2="1852.8" y2="1194.17" stroke="#000" stroke-width="1.3"/>
<line x1="1306.6" y1="1298.59" x2="1312.6" y2="1298.59" stroke="#000" stroke-width="1.3"/>
<line x1="1858.8" y1="1298.59" x2="1852.8" y2="1298.59" stroke="#000" stroke-width="1.3"/>
<text x="1452.1" y="1382.5" font-size="32" text-anchor="middle" fill="#000" stroke="#000" stroke-width="0.5">Peak</text>
<text x="1451.5" y="1418.3" font-size="32" text-anchor="middle" fill="#000" stroke="#000" stroke-width="0.5">latency</text>
<text x="1655.2" y="1382.5" font-size="32" text-anchor="middle" fill="#000" stroke="#000" stroke-width="0.5">+1s</text>
<text x="1856.1" y="1382.5" font-size="32" text-anchor="middle" fill="#000" stroke="#000" stroke-width="0.5">+2s</text>
<text transform="translate(145.5 891.6) scale(1 1.04)" font-size="32" text-anchor="end" fill="#000" stroke="#000" stroke-width="0.5">+2</text>
<text transform="translate(145.5 995.3) scale(1 1.04)" font-size="32" text-anchor="end" fill="#000" stroke="#000" stroke-width="0.5">+1</text>
<text transform="translate(145.5 1203.1) scale(1 1.04)" font-size="32" text-anchor="end" fill="#000" stroke="#000" stroke-width="0.5">-1</text>
<text transform="translate(145.5 1307.1) scale(1 1.04)" font-size="32" text-anchor="end" fill="#000" stroke="#000" stroke-width="0.5">-2</text>
<text x="143.5" y="1078.4" font-size="32" text-anchor="end" fill="#000" stroke="#000" stroke-width="0.5">Working</text>
<text x="143.5" y="1114.6" font-size="32" text-anchor="end" fill="#000" stroke="#000" stroke-width="0.5">frequency</text>
<g shape-rendering="crispEdges">
<rect x="1895.6" y="829" width="40.5" height="8" fill="#800000"/>
<rect x="1895.6" y="837" width="40.5" height="8" fill="#8F0000"/>
<rect x="1895.6" y="845" width="40.5" height="8" fill="#9F0000"/>
<rect x="1895.6" y="853" width="40.5" height="8" fill="#AF0000"/>
<rect x="1895.6" y="861" width="40.5" height="8" fill="#BF0000"/>
<rect x="1895.6" y="869" width="40.5" height="9" fill="#CF0000"/>
<rect x="1895.6" y="878" width="40.5" height="8" fill="#DF0000"/>
<rect x="1895.6" y="886" width="40.5" height="8" fill="#EF0000"/>
<rect x="1895.6" y="894" width="40.5" height="8" fill="#FF0000"/>
<rect x="1895.6" y="902" width="40.5" height="8" fill="#FF1000"/>
<rect x="1895.6" y="910" width="40.5" height="8" fill="#FF2000"/>
<rect x="1895.6" y="918" width="40.5" height="9" fill="#FF3000"/>
<rect x="1895.6" y="927" width="40.5" height="8" fill="#FF4000"/>
<rect x="1895.6" y="935" width="40.5" height="8" fill="#FF5000"/>
<rect x="1895.6" y="943" width="40.5" height="8" fill="#FF6000"/>
<rect x="1895.6" y="951" width="40.5" height="8" fill="#FF7000"/>
<rect x="1895.6" y="959" width="40.5" height="8" fill="#FF8000"/>
<rect x="1895.6" y="967" width="40.5" height="9" fill="#FF8F00"/>
<rect x="1895.6" y="976" width="40.5" height="8" fill="#FF9F00"/>
<rect x="1895.6" y="984" width="40.5" height="8" fill="#FFAF00"/>
<rect x="1895.6" y="992" width="40.5" height="8" fill="#FFBF00"/>
<rect x="1895.6" y="1000" width="40.5" height="8" fill="#FFCF00"/>
<rect x="1895.6" y="1008" width="40.5" height="8" fill="#FFDF00"/>
<rect x="1895.6" y="1016" width="40.5" height="8" fill="#FFEF00"/>
<rect x="1895.6" y="1024" width="40.5" height="9" fill="#FFFF00"/>
<rect x="1895.6" y="1033" width="40.5" height="8" fill="#EFFF10"/>
<rect x="1895.6" y="1041" width="40.5" height="8" fill="#DFFF20"/>
<rect x="1895.6" y="1049" width="40.5" height="8" fill="#CFFF30"/>
<rect x="1895.6" y="1057" width="40.5" height="8" fill="#BFFF40"/>
<rect x="1895.6" y="1065" width="40.5" height="8" fill="#AFFF50"/>
<rect x="1895.6" y="1073" width="40.5" height="9" fill="#9FFF60"/>
<rect x="1895.6" y="1082" width="40.5" height="8" fill="#8FFF70"/>
<rect x="1895.6" y="1090" width="40.5" height="8" fill="#80FF80"/>
<rect x="1895.6" y="1098" width="40.5" height="8" fill="#70FF8F"/>
<rect x="1895.6" y="1106" width="40.5" height="8" fill="#60FF9F"/>
<rect x="1895.6" y="1114" width="40.5" height="8" fill="#50FFAF"/>
<rect x="1895.6" y="1122" width="40.5" height="9" fill="#40FFBF"/>
<rect x="1895.6" y="1131" width="40.5" height="8" fill="#30FFCF"/>
<rect x="1895.6" y="1139" width="40.5" height="8" fill="#20FFDF"/>
<rect x="1895.6" y="1147" width="40.5" height="8" fill="#10FFEF"/>
<rect x="1895.6" y="1155" width="40.5" height="8" fill="#00FFFF"/>
<rect x="1895.6" y="1163" width="40.5" height="8" fill="#00EFFF"/>
<rect x="1895.6" y="1171" width="40.5" height="8" fill="#00DFFF"/>
<rect x="1895.6" y="1179" width="40.5" height="9" fill="#00CFFF"/>
<rect x="1895.6" y="1188" width="40.5" height="8" fill="#00BFFF"/>
<rect x="1895.6" y="1196" width="40.5" height="8" fill="#00AFFF"/>
<rect x="1895.6" y="1204" width="40.5" height="8" fill="#009FFF"/>
<rect x="1895.6" y="1212" width="40.5" height="8" fill="#008FFF"/>
<rect x="1895.6" y="1220" width="40.5" height="8" fill="#0080FF"/>
<rect x="1895.6" y="1228" width="40.5" height="9" fill="#0070FF"/>
<rect x="1895.6" y="1237" width="40.5" height="8" fill="#0060FF"/>
<rect x="1895.6" y="1245" width="40.5" height="8" fill="#0050FF"/>
<rect x="1895.6" y="1253" width="40.5" height="8" fill="#0040FF"/>
<rect x="1895.6" y="1261" width="40.5" height="8" fill="#0030FF"/>
<rect x="1895.6" y="1269" width="40.5" height="8" fill="#0020FF"/>
<rect x="1895.6" y="1277" width="40.5" height="9" fill="#0010FF"/>
<rect x="1895.6" y="1286" width="40.5" height="8" fill="#0000FF"/>
<rect x="1895.6" y="1294" width="40.5" height="8" fill="#0000EF"/>
<rect x="1895.6" y="1302" width="40.5" height="8" fill="#0000DF"/>
<rect x="1895.6" y="1310" width="40.5" height="8" fill="#0000CF"/>
<rect x="1895.6" y="1318" width="40.5" height="8" fill="#0000BF"/>
<rect x="1895.6" y="1326" width="40.5" height="8" fill="#0000AF"/>
<rect x="1895.6" y="1334" width="40.5" height="9" fill="#00009F"/>
<rect x="1895.6" y="1343" width="40.5" height="8" fill="#00008F"/>
</g>
<line x1="1895.6" y1="827.7" x2="1895.6" y2="1351.8" stroke="#000" stroke-width="2"/>
<line x1="1936.1" y1="827.7" x2="1936.1" y2="1351.8" stroke="#000" stroke-width="2"/>
<line x1="1894.6" y1="828.7" x2="1937.1" y2="828.7" stroke="#000" stroke-width="2"/>
<line x1="1894.6" y1="1350.8" x2="1937.1" y2="1350.8" stroke="#000" stroke-width="2"/>
<line x1="1895.6" y1="828.7" x2="1901" y2="828.7" stroke="#000" stroke-width="1.5"/>
<line x1="1936.1" y1="828.7" x2="1931" y2="828.7" stroke="#000" stroke-width="1.5"/>
<text transform="translate(1947 835.9) scale(1 1.04)" font-size="32" text-anchor="start" fill="#000" stroke="#000" stroke-width="0.5">60</text>
<line x1="1895.6" y1="915.72" x2="1901" y2="915.72" stroke="#000" stroke-width="1.5"/>
<line x1="1936.1" y1="915.72" x2="1931" y2="915.72" stroke="#000" stroke-width="1.5"/>
<text transform="translate(1947 922.92) scale(1 1.04)" font-size="32" text-anchor="start" fill="#000" stroke="#000" stroke-width="0.5">40</text>
<line x1="1895.6" y1="1002.73" x2="1901" y2="1002.73" stroke="#000" stroke-width="1.5"/>
<line x1="1936.1" y1="1002.73" x2="1931" y2="1002.73" stroke="#000" stroke-width="1.5"/>
<text transform="translate(1947 1009.93) scale(1 1.04)" font-size="32" text-anchor="start" fill="#000" stroke="#000" stroke-width="0.5">20</text>
<line x1="1895.6" y1="1089.75" x2="1901" y2="1089.75" stroke="#000" stroke-width="1.5"/>
<line x1="1936.1" y1="1089.75" x2="1931" y2="1089.75" stroke="#000" stroke-width="1.5"/>
<text transform="translate(1947 1096.95) scale(1 1.04)" font-size="32" text-anchor="start" fill="#000" stroke="#000" stroke-width="0.5">0</text>
<line x1="1895.6" y1="1176.77" x2="1901" y2="1176.77" stroke="#000" stroke-width="1.5"/>
<line x1="1936.1" y1="1176.77" x2="1931" y2="1176.77" stroke="#000" stroke-width="1.5"/>
<text transform="translate(1947 1183.97) scale(1 1.04)" font-size="32" text-anchor="start" fill="#000" stroke="#000" stroke-width="0.5">-20</text>
<line x1="1895.6" y1="1263.78" x2="1901" y2="1263.78" stroke="#000" stroke-width="1.5"/>
<line x1="1936.1" y1="1263.78" x2="1931" y2="1263.78" stroke="#000" stroke-width="1.5"/>
<text transform="translate(1947 1270.98) scale(1 1.04)" font-size="32" text-anchor="start" fill="#000" stroke="#000" stroke-width="0.5">-40</text>
<line x1="1895.6" y1="1350.8" x2="1901" y2="1350.8" stroke="#000" stroke-width="1.5"/>
<line x1="1936.1" y1="1350.8" x2="1931" y2="1350.8" stroke="#000" stroke-width="1.5"/>
<text transform="translate(1947 1358) scale(1 1.04)" font-size="32" text-anchor="start" fill="#000" stroke="#000" stroke-width="0.5">-60</text>
<text x="1919" y="1393" font-size="32" text-anchor="middle" fill="#000" stroke="#000" stroke-width="0.5">%</text>
<text x="1074.7" y="1488" font-size="39.8" text-anchor="middle" fill="#222" stroke="#222" stroke-width="0.5">Correlation with item recognition performance (HIT-FA)</text>
<text transform="translate(0.9 1553.42) scale(0.8288 1)" font-size="42.57" fill="#262626" stroke="#262626" stroke-width="1.6" stroke-linejoin="round">C</text>
<g shape-rendering="crispEdges">
<rect x="154" y="1541.9" width="808.9" height="518.7" fill="#8FFF70"/>
<rect x="154" y="1541.9" width="3.24" height="102.6" fill="#00FFFF"/>
<rect x="324.76" y="1541.9" width="11.35" height="102.6" fill="#00FFFF"/>
<rect x="381.5" y="1541.9" width="141.04" height="102.6" fill="#00FFFF"/>
<rect x="541.99" y="1541.9" width="182.1" height="102.6" fill="#00FFFF"/>
<rect x="853.78" y="1541.9" width="59.44" height="102.6" fill="#00FFFF"/>
<rect x="298.28" y="1644.5" width="408.52" height="104.3" fill="#00FFFF"/>
<rect x="848.37" y="1644.5" width="70.25" height="104.3" fill="#00FFFF"/>
<rect x="156.71" y="1748.8" width="3.78" height="104.3" fill="#00FFFF"/>
<rect x="289.1" y="1748.8" width="392.85" height="104.3" fill="#00FFFF"/>
<rect x="840.27" y="1748.8" width="74.57" height="104.3" fill="#00FFFF"/>
<rect x="157.79" y="1853.1" width="25.4" height="103.8" fill="#00FFFF"/>
<rect x="292.34" y="1853.1" width="358.8" height="103.8" fill="#00FFFF"/>
<rect x="845.67" y="1853.1" width="30.8" height="103.8" fill="#00FFFF"/>
<rect x="496.06" y="1956.9" width="94.02" height="103.7" fill="#00FFFF"/>
</g>
<defs><linearGradient id="rg1" x1="0" x2="1" y1="0" y2="0"><stop offset="0" stop-color="#FF1000"/><stop offset="1" stop-color="#D83000"/></linearGradient><linearGradient id="rg2" x1="0" x2="1" y1="0" y2="0"><stop offset="0" stop-color="#E81C00"/><stop offset="1" stop-color="#D03000"/></linearGradient><linearGradient id="rgc" x1="0" x2="0" y1="0" y2="1"><stop offset="0" stop-color="#FF0000"/><stop offset="1" stop-color="#D03008"/></linearGradient></defs>
<g shape-rendering="crispEdges">
<rect x="156.17" y="1644.5" width="3.24" height="104.3" fill="#F01000"/>
<rect x="503.08" y="1644.5" width="1.62" height="104.3" fill="#D05040"/>
<rect x="507.94" y="1644.5" width="1.62" height="104.3" fill="#D05040"/>
<rect x="292.88" y="1748.8" width="1.62" height="104.3" fill="#D04030"/>
<rect x="308.01" y="1748.8" width="25.94" height="104.3" fill="#FF1000"/>
<rect x="413.38" y="1748.8" width="2.16" height="104.3" fill="#E03020"/>
<rect x="417.16" y="1748.8" width="2.7" height="104.3" fill="#E03020"/>
<rect x="436.07" y="1748.8" width="98.35" height="104.3" fill="url(#rg1)"/>
<rect x="292.34" y="1853.1" width="42.69" height="103.8" fill="url(#rg2)"/>
<rect x="335.03" y="1853.1" width="2.16" height="103.8" fill="#A08080"/>
<rect x="337.19" y="1853.1" width="2.7" height="103.8" fill="#D83000"/>
<rect x="340.97" y="1853.1" width="2.16" height="103.8" fill="#C06050"/>
<rect x="471.2" y="1853.1" width="20.53" height="103.8" fill="#EE1400"/>
<rect x="320.44" y="1748.8" width="1.62" height="104.3" fill="#C0A0A0"/>
<rect x="325.3" y="1748.8" width="1.62" height="104.3" fill="#C0A0A0"/>
<rect x="485.79" y="1853.1" width="1.08" height="103.8" fill="#B0A0A0"/>
</g>
<line x1="154" y1="1541.9" x2="962.9" y2="1541.9" stroke="#333" stroke-width="1.2"/>
<line x1="962.9" y1="1541.9" x2="962.9" y2="2060.6" stroke="#333" stroke-width="1.2"/>
<line x1="154" y1="2060.6" x2="962.9" y2="2060.6" stroke="#333" stroke-width="1.5"/>
<line x1="153.1" y1="1553.9" x2="153.1" y2="2072.6" stroke="#333" stroke-width="1.5"/>
<line x1="357.7" y1="2060.6" x2="357.7" y2="2052.6" stroke="#333" stroke-width="1.3"/>
<line x1="357.7" y1="1541.9" x2="357.7" y2="1549.9" stroke="#333" stroke-width="1.3"/>
<line x1="652.8" y1="2060.6" x2="652.8" y2="2052.6" stroke="#333" stroke-width="1.3"/>
<line x1="652.8" y1="1541.9" x2="652.8" y2="1549.9" stroke="#333" stroke-width="1.3"/>
<line x1="949.4" y1="2060.6" x2="949.4" y2="2052.6" stroke="#333" stroke-width="1.3"/>
<line x1="949.4" y1="1541.9" x2="949.4" y2="1549.9" stroke="#333" stroke-width="1.3"/>
<line x1="962.9" y1="1592" x2="956.9" y2="1592" stroke="#333" stroke-width="1.3"/>
<line x1="154" y1="1605" x2="161" y2="1605" stroke="#333" stroke-width="1.3"/>
<line x1="962.9" y1="1697" x2="956.9" y2="1697" stroke="#333" stroke-width="1.3"/>
<line x1="154" y1="1710" x2="161" y2="1710" stroke="#333" stroke-width="1.3"/>
<line x1="962.9" y1="1801.8" x2="956.9" y2="1801.8" stroke="#333" stroke-width="1.3"/>
<line x1="154" y1="1814.8" x2="161" y2="1814.8" stroke="#333" stroke-width="1.3"/>
<line x1="962.9" y1="1905.5" x2="956.9" y2="1905.5" stroke="#333" stroke-width="1.3"/>
<line x1="154" y1="1918.5" x2="161" y2="1918.5" stroke="#333" stroke-width="1.3"/>
<line x1="962.9" y1="2009.3" x2="956.9" y2="2009.3" stroke="#333" stroke-width="1.3"/>
<line x1="154" y1="2022.3" x2="161" y2="2022.3" stroke="#333" stroke-width="1.3"/>
<text x="359.6" y="2103.8" font-size="32" text-anchor="middle" fill="#000" stroke="#000" stroke-width="0.5">Peak</text>
<text x="359" y="2139" font-size="32" text-anchor="middle" fill="#000" stroke="#000" stroke-width="0.5">latency</text>
<text x="656.3" y="2103.8" font-size="32" text-anchor="middle" fill="#000" stroke="#000" stroke-width="0.5">+1s</text>
<text x="951.8" y="2103.8" font-size="32" text-anchor="middle" fill="#000" stroke="#000" stroke-width="0.5">+2s</text>
<rect x="258.3" y="1728.8" width="102.7" height="256.2" fill="none" stroke="#222" stroke-width="2.6"/>
<g shape-rendering="crispEdges"><rect x="1003.8" y="1540.9" width="42" height="139.1" fill="#00FFFF"/><rect x="1003.8" y="1680" width="42" height="380.6" fill="url(#rgc)"/></g>
<line x1="1003.8" y1="1540" x2="1003.8" y2="2061.5" stroke="#111" stroke-width="1.8"/>
<line x1="1045.8" y1="1540" x2="1045.8" y2="2061.5" stroke="#111" stroke-width="1.8"/>
<line x1="1003.8" y1="1540.9" x2="1045.8" y2="1540.9" stroke="#111" stroke-width="1.8"/>
<line x1="1003.8" y1="2060.6" x2="1045.8" y2="2060.6" stroke="#111" stroke-width="1.8"/>
<line x1="1003.8" y1="1615.7" x2="1012" y2="1615.7" stroke="#111" stroke-width="1.5"/>
<line x1="1045.8" y1="1615.7" x2="1037.5" y2="1615.7" stroke="#111" stroke-width="1.5"/>
<line x1="1003.8" y1="1690.4" x2="1012" y2="1690.4" stroke="#111" stroke-width="1.5"/>
<line x1="1045.8" y1="1690.4" x2="1037.5" y2="1690.4" stroke="#111" stroke-width="1.5"/>
<line x1="1003.8" y1="1764.5" x2="1012" y2="1764.5" stroke="#111" stroke-width="1.5"/>
<line x1="1045.8" y1="1764.5" x2="1037.5" y2="1764.5" stroke="#111" stroke-width="1.5"/>
<line x1="1003.8" y1="1838.7" x2="1012" y2="1838.7" stroke="#111" stroke-width="1.5"/>
<line x1="1045.8" y1="1838.7" x2="1037.5" y2="1838.7" stroke="#111" stroke-width="1.5"/>
<line x1="1003.8" y1="1912.8" x2="1012" y2="1912.8" stroke="#111" stroke-width="1.5"/>
<line x1="1045.8" y1="1912.8" x2="1037.5" y2="1912.8" stroke="#111" stroke-width="1.5"/>
<line x1="1003.8" y1="1987" x2="1012" y2="1987" stroke="#111" stroke-width="1.5"/>
<line x1="1045.8" y1="1987" x2="1037.5" y2="1987" stroke="#111" stroke-width="1.5"/>
<line x1="361" y1="1931.5" x2="1148" y2="1932.2" stroke="#222" stroke-width="2.6"/>
<polygon points="1146.3,1920.5 1168.6,1931.8 1146.3,1943.2" fill="#222"/>
<text x="1055" y="1549.6" font-size="32" text-anchor="start" fill="#000" stroke="#000" stroke-width="0.5">n.s.</text>
<text x="1055" y="1697.2" font-size="32" text-anchor="start" fill="#000" stroke="#000" stroke-width="0.5">0.05</text>
<text x="1055" y="1846.1" font-size="32" text-anchor="start" fill="#000" stroke="#000" stroke-width="0.5">0.03</text>
<text x="1055" y="1994.4" font-size="32" text-anchor="start" fill="#000" stroke="#000" stroke-width="0.5">0.01</text>
<text x="1068.5" y="2101.4" font-size="32" text-anchor="middle" fill="#000" stroke="#000" stroke-width="0.5">p value</text>
<text transform="translate(1261.25 1552.4) scale(0.9727 1)" font-size="43.31" fill="#262626" stroke="#262626" stroke-width="1.6" stroke-linejoin="round">D</text>
<line x1="1252.4" y1="1616.2" x2="1252.4" y2="2054.2" stroke="#868686" stroke-width="2.4"/>
<line x1="1251.4" y1="2053.2" x2="1992" y2="2053.2" stroke="#868686" stroke-width="2.4"/>
<line x1="1245.4" y1="2053.2" x2="1252.4" y2="2053.2" stroke="#868686" stroke-width="2.2"/>
<text x="1235" y="2063.1" font-size="30" text-anchor="end" fill="#1a1a1a" textLength="15" lengthAdjust="spacingAndGlyphs" stroke="#1a1a1a" stroke-width="0.3">0</text>
<line x1="1252.4" y1="2053.2" x2="1252.4" y2="2060.2" stroke="#868686" stroke-width="2.2"/>
<text x="1254.9" y="2093" font-size="30" text-anchor="middle" fill="#1a1a1a" textLength="15" lengthAdjust="spacingAndGlyphs" stroke="#1a1a1a" stroke-width="0.3">0</text>
<line x1="1245.4" y1="1966" x2="1252.4" y2="1966" stroke="#868686" stroke-width="2.2"/>
<text x="1235" y="1975.9" font-size="30" text-anchor="end" fill="#1a1a1a" textLength="15" lengthAdjust="spacingAndGlyphs" stroke="#1a1a1a" stroke-width="0.3">5</text>
<line x1="1400.2" y1="2053.2" x2="1400.2" y2="2060.2" stroke="#868686" stroke-width="2.2"/>
<text x="1402.7" y="2093" font-size="30" text-anchor="middle" fill="#1a1a1a" textLength="15" lengthAdjust="spacingAndGlyphs" stroke="#1a1a1a" stroke-width="0.3">5</text>
<line x1="1245.4" y1="1878.8" x2="1252.4" y2="1878.8" stroke="#868686" stroke-width="2.2"/>
<text x="1235" y="1888.7" font-size="30" text-anchor="end" fill="#1a1a1a" textLength="29.5" lengthAdjust="spacingAndGlyphs" stroke="#1a1a1a" stroke-width="0.3">10</text>
<line x1="1548" y1="2053.2" x2="1548" y2="2060.2" stroke="#868686" stroke-width="2.2"/>
<text x="1550.5" y="2093" font-size="30" text-anchor="middle" fill="#1a1a1a" textLength="29.5" lengthAdjust="spacingAndGlyphs" stroke="#1a1a1a" stroke-width="0.3">10</text>
<line x1="1245.4" y1="1791.6" x2="1252.4" y2="1791.6" stroke="#868686" stroke-width="2.2"/>
<text x="1235" y="1801.5" font-size="30" text-anchor="end" fill="#1a1a1a" textLength="29.5" lengthAdjust="spacingAndGlyphs" stroke="#1a1a1a" stroke-width="0.3">15</text>
<line x1="1695.8" y1="2053.2" x2="1695.8" y2="2060.2" stroke="#868686" stroke-width="2.2"/>
<text x="1698.3" y="2093" font-size="30" text-anchor="middle" fill="#1a1a1a" textLength="29.5" lengthAdjust="spacingAndGlyphs" stroke="#1a1a1a" stroke-width="0.3">15</text>
<line x1="1245.4" y1="1704.4" x2="1252.4" y2="1704.4" stroke="#868686" stroke-width="2.2"/>
<text x="1235" y="1714.3" font-size="30" text-anchor="end" fill="#1a1a1a" textLength="29.5" lengthAdjust="spacingAndGlyphs" stroke="#1a1a1a" stroke-width="0.3">20</text>
<line x1="1843.6" y1="2053.2" x2="1843.6" y2="2060.2" stroke="#868686" stroke-width="2.2"/>
<text x="1846.1" y="2093" font-size="30" text-anchor="middle" fill="#1a1a1a" textLength="29.5" lengthAdjust="spacingAndGlyphs" stroke="#1a1a1a" stroke-width="0.3">20</text>
<line x1="1245.4" y1="1617.2" x2="1252.4" y2="1617.2" stroke="#868686" stroke-width="2.2"/>
<text x="1235" y="1631.8" font-size="30" text-anchor="end" fill="#1a1a1a" textLength="29.5" lengthAdjust="spacingAndGlyphs" stroke="#1a1a1a" stroke-width="0.3">25</text>
<line x1="1991.4" y1="2053.2" x2="1991.4" y2="2060.2" stroke="#868686" stroke-width="2.2"/>
<text x="1991" y="2093" font-size="30" text-anchor="middle" fill="#1a1a1a" textLength="29.5" lengthAdjust="spacingAndGlyphs" stroke="#1a1a1a" stroke-width="0.3">25</text>
<polygon points="1272.16,1774.16 1281.96,1764.36 1291.76,1774.16 1281.96,1783.96" fill="#5a5a5a"/>
<polygon points="1301.72,1809.04 1311.52,1799.24 1321.32,1809.04 1311.52,1818.84" fill="#5a5a5a"/>
<polygon points="1331.28,1730.56 1341.08,1720.76 1350.88,1730.56 1341.08,1740.36" fill="#5a5a5a"/>
<polygon points="1360.84,1931.12 1370.64,1921.32 1380.44,1931.12 1370.64,1940.92" fill="#5a5a5a"/>
<polygon points="1390.4,1686.96 1400.2,1677.16 1410,1686.96 1400.2,1696.76" fill="#5a5a5a"/>
<polygon points="1419.96,1669.52 1429.76,1659.72 1439.56,1669.52 1429.76,1679.32" fill="#5a5a5a"/>
<polygon points="1449.52,1983.44 1459.32,1973.64 1469.12,1983.44 1459.32,1993.24" fill="#5a5a5a"/>
<polygon points="1479.08,1730.56 1488.88,1720.76 1498.68,1730.56 1488.88,1740.36" fill="#5a5a5a"/>
<polygon points="1508.64,1730.56 1518.44,1720.76 1528.24,1730.56 1518.44,1740.36" fill="#5a5a5a"/>
<polygon points="1538.2,1852.64 1548,1842.84 1557.8,1852.64 1548,1862.44" fill="#5a5a5a"/>
<polygon points="1567.76,1966 1577.56,1956.2 1587.36,1966 1577.56,1975.8" fill="#5a5a5a"/>
<polygon points="1597.32,1730.56 1607.12,1720.76 1616.92,1730.56 1607.12,1740.36" fill="#5a5a5a"/>
<polygon points="1626.88,1852.64 1636.68,1842.84 1646.48,1852.64 1636.68,1862.44" fill="#5a5a5a"/>
<polygon points="1656.44,1852.64 1666.24,1842.84 1676.04,1852.64 1666.24,1862.44" fill="#5a5a5a"/>
<polygon points="1686,1948.56 1695.8,1938.76 1705.6,1948.56 1695.8,1958.36" fill="#5a5a5a"/>
<polygon points="1715.56,1896.24 1725.36,1886.44 1735.16,1896.24 1725.36,1906.04" fill="#5a5a5a"/>
<polygon points="1745.12,2018.32 1754.92,2008.52 1764.72,2018.32 1754.92,2028.12" fill="#5a5a5a"/>
<polygon points="1774.68,1852.64 1784.48,1842.84 1794.28,1852.64 1784.48,1862.44" fill="#5a5a5a"/>
<polygon points="1804.24,2000.88 1814.04,1991.08 1823.84,2000.88 1814.04,2010.68" fill="#5a5a5a"/>
<polygon points="1833.8,2035.76 1843.6,2025.96 1853.4,2035.76 1843.6,2045.56" fill="#5a5a5a"/>
<polygon points="1863.36,1913.68 1873.16,1903.88 1882.96,1913.68 1873.16,1923.48" fill="#5a5a5a"/>
<polygon points="1892.92,1791.6 1902.72,1781.8 1912.52,1791.6 1902.72,1801.4" fill="#5a5a5a"/>
<line x1="1281.96" y1="1760.21" x2="1902.72" y2="1946.29" stroke="#000" stroke-width="2.6"/>
<text x="1574" y="1588" font-size="36.2" text-anchor="start" fill="#222" stroke="#222" stroke-width="0.5">R=-0.51</text>
<text x="1574.5" y="1628.3" font-size="36.4" text-anchor="start" fill="#222" stroke="#222" stroke-width="0.5">p=0.015</text>
<text x="1627.5" y="2131.3" font-size="32.7" text-anchor="middle" fill="#222" stroke="#222" stroke-width="0.5">ERD OLD-NEW (rank)</text>
<text transform="translate(1187.5 1802.2) rotate(-90)" font-size="33" stroke="#222" stroke-width="0.4" text-anchor="middle" fill="#222">HIT-FA (rank)</text>
</svg>
</body></html>
